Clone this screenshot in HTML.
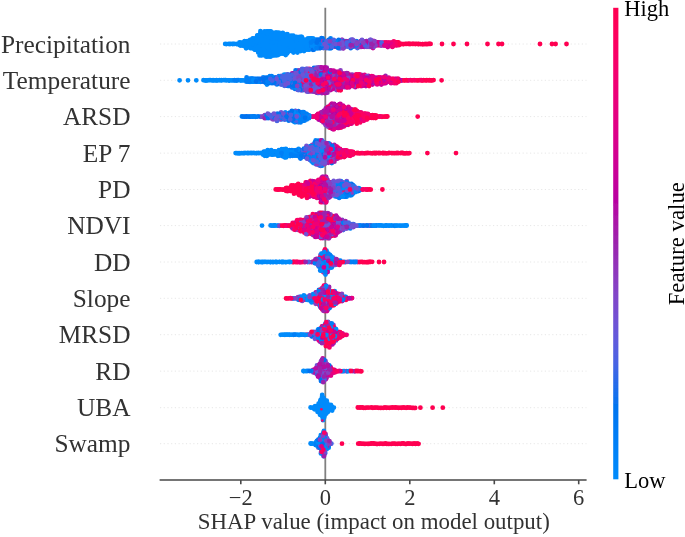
<!DOCTYPE html>
<html><head><meta charset="utf-8"><title>SHAP summary</title>
<style>
html,body{margin:0;padding:0;background:#fff;}
body{width:685px;height:537px;overflow:hidden;font-family:"Liberation Serif",serif;}
svg{display:block;font-family:"Liberation Serif",serif;}
</style></head><body>
<svg width="685" height="537" viewBox="0 0 685 537">
<defs><filter id="sf" x="0" y="0" width="685" height="537" filterUnits="userSpaceOnUse"><feGaussianBlur stdDeviation="0.45"/></filter><linearGradient id="cb" x1="0" y1="0" x2="0" y2="1"><stop offset="0.000" stop-color="#ff0051"/><stop offset="0.050" stop-color="#fe005c"/><stop offset="0.100" stop-color="#f90067"/><stop offset="0.150" stop-color="#f20072"/><stop offset="0.200" stop-color="#e9007c"/><stop offset="0.250" stop-color="#e00086"/><stop offset="0.300" stop-color="#d5008f"/><stop offset="0.350" stop-color="#c90098"/><stop offset="0.400" stop-color="#bb00a0"/><stop offset="0.450" stop-color="#ac16a7"/><stop offset="0.500" stop-color="#9b24ad"/><stop offset="0.550" stop-color="#9135ba"/><stop offset="0.600" stop-color="#8443c6"/><stop offset="0.650" stop-color="#754fd1"/><stop offset="0.700" stop-color="#635adb"/><stop offset="0.750" stop-color="#4b63e3"/><stop offset="0.800" stop-color="#246cea"/><stop offset="0.850" stop-color="#0075f0"/><stop offset="0.900" stop-color="#007cf5"/><stop offset="0.950" stop-color="#0084f9"/><stop offset="1.000" stop-color="#008bfb"/></linearGradient></defs>
<rect width="685" height="537" fill="#fff"/>
<g filter="url(#sf)">
<g stroke="#cfcfcf" stroke-width="1" stroke-dasharray="1.2 2.5" opacity="0.5"><line x1="160" x2="586.5" y1="44.0" y2="44.0"/><line x1="160" x2="586.5" y1="80.3" y2="80.3"/><line x1="160" x2="586.5" y1="116.6" y2="116.6"/><line x1="160" x2="586.5" y1="153.1" y2="153.1"/><line x1="160" x2="586.5" y1="189.5" y2="189.5"/><line x1="160" x2="586.5" y1="225.6" y2="225.6"/><line x1="160" x2="586.5" y1="262.0" y2="262.0"/><line x1="160" x2="586.5" y1="298.3" y2="298.3"/><line x1="160" x2="586.5" y1="334.7" y2="334.7"/><line x1="160" x2="586.5" y1="371.1" y2="371.1"/><line x1="160" x2="586.5" y1="407.7" y2="407.7"/><line x1="160" x2="586.5" y1="443.7" y2="443.7"/></g>
<line x1="325.3" x2="325.3" y1="7.8" y2="480" stroke="#808080" stroke-width="1.8"/>
<g fill="none" stroke-width="4.80" stroke-linecap="round">
<path stroke="#008bfb" d="M286.2 48.1h0M247.1 153.2h0M324.3 253.7h0M331.7 267.6h0M272.0 32.7h0M323.7 446.4h0M298.2 48.0h0M269.9 56.4h0M296.6 45.4h0M323.0 405.0h0M274.1 42.5h0M326.4 412.0h0M327.2 266.3h0M285.1 36.8h0M264.4 34.1h0M328.2 407.6h0M252.6 46.7h0M282.8 41.3h0M295.5 74.8h0M330.5 332.1h0M332.7 407.5h0M296.3 39.9h0M284.2 46.8h0M273.6 52.5h0M313.3 163.1h0M246.9 79.0h0M324.3 255.1h0M251.1 41.2h0M301.8 36.9h0M263.2 77.4h0M313.9 48.2h0M288.8 45.5h0M269.0 34.2h0M264.6 49.5h0M279.0 53.6h0M284.4 49.7h0M264.6 48.1h0M282.8 32.9h0M274.9 55.3h0M276.4 53.7h0M292.0 46.9h0M230.6 43.9h0M245.5 46.8h0M276.5 51.0h0M291.7 41.2h0M271.5 52.2h0M325.0 451.9h0M319.8 262.0h0M300.5 45.5h0M322.8 399.3h0M233.9 80.3h0M247.7 153.0h0M327.7 262.1h0M277.1 39.9h0M261.0 262.0h0M321.3 440.8h0M274.6 38.3h0M294.1 46.9h0M284.8 150.2h0M281.0 150.3h0M251.7 81.7h0M328.3 323.6h0M266.4 45.5h0M296.9 46.9h0M256.0 42.4h0M308.8 298.2h0M260.8 43.9h0M294.0 42.7h0M322.2 303.9h0M262.9 50.8h0M295.3 110.9h0M317.8 48.4h0M278.6 39.7h0M323.4 404.9h0M285.8 150.4h0M286.1 334.7h0M326.0 440.9h0M392.2 225.6h0M294.8 38.4h0M277.4 32.9h0M252.5 41.2h0M314.5 156.0h0M287.6 151.6h0M213.9 80.4h0M257.6 38.5h0M303.4 371.0h0M272.0 225.6h0M325.7 402.2h0M321.1 255.1h0M282.9 151.8h0M322.1 409.1h0M254.7 49.5h0M292.0 151.7h0M324.0 450.9h0M282.2 156.1h0M258.4 45.5h0M342.3 298.4h0M258.3 39.6h0M320.2 42.4h0M352.5 190.9h0M318.5 412.0h0M285.8 154.7h0M284.6 44.0h0M268.9 153.0h0M278.9 150.2h0M287.1 41.1h0M271.4 42.6h0M272.7 52.3h0M285.5 49.6h0M271.3 48.0h0M304.3 297.0h0M333.9 407.6h0M349.5 192.4h0M322.6 261.8h0M290.2 116.8h0M329.9 295.4h0M283.9 51.0h0M323.6 447.9h0M321.9 146.2h0M324.7 436.7h0M328.2 46.7h0M318.2 410.6h0M326.5 250.7h0M336.4 183.9h0M286.5 37.1h0M265.5 51.2h0M351.1 190.9h0M312.3 298.5h0M267.0 262.1h0M271.1 151.7h0M274.0 44.1h0M305.8 48.3h0M269.1 151.6h0M303.9 45.5h0M385.1 225.7h0M318.6 407.5h0M310.2 41.3h0M251.2 44.2h0M287.9 39.7h0M347.0 185.1h0M249.1 45.5h0M318.5 158.7h0M330.4 343.1h0M334.7 291.1h0M262.0 225.6h0M300.2 49.5h0M322.2 39.7h0M264.8 155.8h0M300.0 36.9h0M266.3 56.7h0M267.7 41.3h0M269.3 49.5h0M284.4 151.6h0M331.7 339.0h0M322.9 413.2h0M240.4 80.3h0M272.8 41.4h0M312.5 39.6h0M284.2 74.6h0M293.3 42.8h0M303.2 296.7h0M259.7 49.6h0M288.9 46.8h0M236.7 80.5h0M284.2 154.4h0M327.5 442.3h0M319.2 406.4h0M277.6 46.6h0M391.6 225.5h0M269.8 151.6h0M259.9 46.8h0M263.6 34.3h0M283.2 150.5h0M239.5 42.4h0M283.8 45.5h0M249.0 153.2h0M334.7 297.0h0M319.9 437.9h0M266.0 34.1h0M341.5 46.9h0M266.4 55.3h0M325.3 323.6h0M255.0 39.7h0M300.6 296.9h0M264.9 44.1h0M311.3 299.6h0M286.9 38.4h0M296.0 42.4h0M269.7 83.1h0M344.1 189.6h0M250.8 152.9h0M355.0 190.8h0M254.7 45.4h0M271.1 53.8h0M405.8 225.5h0M271.9 38.3h0M304.3 117.9h0M276.5 49.7h0M329.7 344.6h0M322.5 165.6h0M381.0 225.4h0M328.7 447.7h0M270.6 153.0h0M293.5 52.5h0M272.3 152.9h0M341.8 371.3h0M300.1 39.8h0M275.4 42.5h0M313.0 443.6h0M323.4 442.2h0"/>
<path stroke="#007ff6" d="M311.2 43.8h0M350.0 261.9h0M308.2 299.6h0M332.3 263.5h0M259.4 80.3h0M345.3 189.4h0M315.8 162.8h0M287.9 113.7h0M358.8 190.9h0M296.7 298.2h0M353.2 192.4h0M336.4 191.0h0M288.8 151.7h0M295.0 151.9h0M285.3 83.1h0M326.0 160.1h0M322.9 447.9h0M258.8 80.2h0M326.6 306.8h0M330.2 153.1h0M351.7 225.5h0M344.1 195.2h0M325.7 255.1h0M267.8 77.6h0M322.7 46.8h0M320.7 256.5h0M315.8 42.5h0M303.9 150.4h0M328.3 144.6h0M370.7 225.7h0M286.0 76.1h0M301.6 120.7h0M321.6 447.7h0M297.0 119.4h0M325.6 304.1h0M307.1 371.0h0M327.0 253.8h0M335.4 336.2h0M373.1 225.7h0M294.4 115.4h0M367.6 45.3h0M294.7 74.6h0M312.6 42.7h0M341.5 188.0h0M316.1 296.9h0M375.1 225.7h0M324.2 262.2h0M302.8 299.7h0M300.0 72.1h0M319.8 301.0h0M300.3 113.8h0M311.2 38.4h0M314.7 147.4h0M312.5 295.5h0M362.8 225.7h0M329.3 294.0h0M318.6 336.2h0M241.9 116.4h0M316.9 441.0h0M271.4 83.0h0M289.4 153.0h0M326.1 294.0h0M278.9 76.1h0M296.9 80.5h0M314.4 297.0h0M327.0 445.3h0M386.1 225.7h0M264.0 151.6h0M319.0 304.0h0M290.1 156.0h0M345.1 226.8h0M266.0 82.9h0M334.4 41.2h0M304.7 334.9h0M332.4 266.3h0M282.8 116.4h0"/>
<path stroke="#0072ef" d="M277.0 119.3h0M351.5 184.0h0M307.8 148.8h0M331.8 163.0h0M342.5 225.4h0M322.3 364.1h0M281.6 81.6h0M322.7 38.5h0M289.6 83.3h0M307.9 88.6h0M307.4 150.2h0M281.4 119.4h0M263.6 81.8h0M303.7 113.7h0M266.9 83.1h0M272.8 83.0h0M300.7 298.2h0M263.8 116.5h0M307.3 77.5h0M332.6 192.3h0M328.5 343.3h0M328.4 48.2h0M324.8 144.8h0M323.7 436.5h0M290.7 84.5h0M311.7 155.9h0M301.6 83.2h0M307.7 116.4h0M277.8 118.1h0M318.9 41.0h0M254.4 116.4h0M313.0 85.9h0M336.2 46.9h0M287.0 115.1h0M335.9 192.4h0M338.6 46.9h0M334.3 192.1h0M283.2 81.7h0M292.5 78.7h0M317.8 442.3h0M358.0 191.1h0"/>
<path stroke="#4b63e3" d="M304.9 80.5h0M349.6 186.5h0M278.9 80.3h0M298.4 119.4h0M313.1 158.6h0M339.0 45.5h0M319.6 69.2h0M303.5 69.2h0M342.2 192.2h0M291.6 85.8h0M372.1 46.9h0M306.2 69.0h0M348.5 188.0h0M309.0 81.7h0M311.3 151.6h0M287.9 115.3h0M344.8 228.3h0M355.8 190.9h0M297.4 70.7h0M325.8 151.6h0M333.2 261.8h0M293.1 81.8h0M293.7 84.7h0M319.7 48.1h0M339.6 195.0h0M333.3 257.7h0M312.6 147.4h0M285.8 77.6h0M299.3 151.5h0M285.6 78.9h0M317.3 163.0h0M296.5 153.1h0M349.2 189.7h0M316.3 77.5h0M303.4 85.9h0M332.8 229.9h0M356.1 46.8h0M315.5 81.9h0M301.6 117.8h0M306.2 81.8h0M288.1 80.4h0M330.9 260.7h0M360.3 44.1h0M310.0 153.2h0M292.6 83.2h0M291.3 113.7h0M271.3 118.2h0M353.6 224.1h0M343.8 261.8h0M360.5 45.5h0M304.5 155.9h0M318.3 146.1h0M313.4 81.9h0M324.2 73.2h0M293.5 79.1h0M283.0 117.9h0M317.3 146.2h0M319.1 46.7h0M297.0 72.0h0M260.3 116.7h0M320.3 266.2h0M301.7 80.2h0M301.7 70.7h0M301.8 113.8h0M324.9 76.2h0M293.4 83.2h0M319.6 153.0h0M278.8 77.6h0M332.4 195.0h0M332.5 189.4h0M289.7 78.7h0"/>
<path stroke="#7053d4" d="M349.5 227.0h0M319.2 232.7h0M312.0 90.1h0M321.4 156.0h0M304.6 77.5h0M348.8 189.5h0M293.5 80.3h0M347.1 225.5h0M327.3 298.3h0M350.8 193.6h0M327.3 231.0h0M328.4 158.6h0M291.9 119.3h0M336.8 193.6h0M320.5 254.8h0M310.3 70.6h0M338.6 41.4h0M261.0 116.8h0M301.6 116.7h0M302.5 73.5h0M363.5 41.3h0M310.9 158.9h0M318.5 441.0h0M308.0 158.8h0M364.4 46.9h0M266.8 116.5h0M336.3 188.2h0M337.8 44.0h0M316.8 90.1h0M316.3 261.9h0M276.8 118.0h0M322.1 157.2h0M346.1 228.2h0M268.8 78.9h0M319.5 148.7h0M321.4 438.1h0M329.4 369.7h0M338.8 42.5h0M346.4 371.1h0M308.6 78.9h0M318.2 72.1h0M306.5 146.0h0M319.6 365.7h0M317.6 84.7h0M321.1 262.0h0M284.2 82.9h0M322.6 185.3h0M324.4 42.6h0M324.7 449.4h0M319.5 67.7h0M319.5 146.0h0M311.2 80.4h0M312.4 90.1h0M318.5 338.9h0M327.7 160.0h0M325.3 146.1h0M335.4 183.8h0M352.1 39.6h0M329.4 46.8h0M343.3 224.1h0M283.4 115.3h0M322.3 453.5h0M322.0 69.0h0M346.8 181.2h0M321.8 267.7h0M337.1 192.2h0M353.7 81.8h0M344.2 45.3h0"/>
<path stroke="#893fc2" d="M327.5 371.2h0M336.0 340.4h0M326.0 92.9h0M330.8 42.6h0M319.6 147.6h0M318.8 371.3h0M320.9 292.5h0M317.0 158.7h0M290.3 83.1h0M333.7 158.6h0M370.1 46.9h0M317.5 153.0h0M326.0 91.4h0M332.2 126.6h0M336.8 232.6h0M316.3 83.3h0M327.5 185.4h0M342.8 120.8h0M272.6 116.8h0M273.1 119.4h0M334.3 340.1h0M312.9 218.7h0M316.6 70.4h0M319.0 90.3h0M264.8 115.1h0M307.7 153.1h0M334.1 151.8h0M296.4 76.2h0M322.2 215.8h0M312.8 155.8h0M290.0 77.3h0M324.0 238.1h0M280.1 119.3h0M331.3 301.2h0M320.0 217.4h0M314.9 295.6h0M330.8 443.8h0M298.7 76.1h0M335.7 337.4h0M311.7 153.3h0M344.9 81.6h0M327.1 70.5h0M318.5 77.5h0M308.0 81.8h0M321.0 88.9h0M335.0 158.7h0M306.4 73.4h0M329.5 224.1h0M325.6 361.2h0M306.1 147.6h0M294.2 80.1h0M359.7 44.2h0M344.6 87.2h0M355.9 84.5h0M324.0 369.5h0M320.2 373.9h0M329.6 81.7h0M332.3 113.9h0M339.4 223.0h0M330.8 305.5h0M362.7 84.4h0M322.9 85.8h0M338.8 77.6h0M317.6 302.6h0M324.0 221.3h0M307.3 78.9h0M326.5 259.3h0M336.6 331.9h0M341.8 40.0h0M320.8 161.7h0M341.9 294.0h0"/>
<path stroke="#9b24ad" d="M318.8 183.7h0M307.8 72.0h0M341.6 227.1h0M331.0 128.0h0M334.9 109.8h0M305.3 231.1h0M331.4 83.2h0M343.8 77.4h0M342.2 108.1h0M342.5 106.9h0M328.9 234.2h0M353.3 44.2h0M323.7 111.0h0M326.2 198.1h0M306.4 221.5h0M368.9 45.2h0M363.6 82.9h0M326.2 376.9h0M321.0 362.8h0M323.2 333.5h0M329.2 126.4h0M326.5 158.8h0M334.4 161.7h0M326.7 67.6h0M315.1 336.0h0M322.6 200.8h0M332.6 123.8h0M326.6 368.4h0M346.7 84.6h0M348.9 81.7h0M334.4 153.2h0M361.7 42.7h0M328.0 193.5h0M341.6 85.8h0M324.7 188.1h0M333.9 126.5h0M326.8 375.2h0M333.6 219.9h0M325.6 256.4h0M313.5 334.7h0M324.4 221.6h0M351.1 121.0h0M325.5 378.1h0M331.2 115.0h0M312.8 74.6h0M320.6 72.0h0M358.8 80.2h0M324.1 84.5h0M329.9 106.7h0M339.0 298.4h0M326.9 81.5h0M320.9 67.5h0M326.9 124.9h0M322.7 438.2h0M302.4 80.4h0M319.4 183.9h0M337.7 263.5h0M295.7 88.6h0M328.4 115.3h0M330.2 160.3h0M295.2 81.5h0M329.7 158.6h0M326.4 77.3h0M326.5 200.8h0M323.1 232.6h0M334.4 295.4h0M325.7 365.3h0M321.8 74.6h0M325.1 297.1h0M323.4 122.4h0M323.9 234.1h0M323.2 186.7h0M336.8 112.5h0M333.4 155.9h0M325.8 344.3h0M329.4 443.8h0"/>
<path stroke="#b607a2" d="M333.6 112.3h0M308.7 225.6h0M356.1 75.9h0M351.6 76.0h0M334.5 81.9h0M332.5 105.6h0M330.4 234.2h0M332.1 155.8h0M321.3 327.9h0M320.0 119.2h0M318.9 193.9h0M365.7 83.0h0M340.2 82.9h0M349.6 77.5h0M330.0 292.7h0M362.3 45.3h0M312.4 193.9h0M349.8 76.0h0M318.1 191.0h0M330.7 90.0h0M318.5 217.3h0M327.8 235.2h0M334.7 263.4h0M333.5 120.8h0M368.3 80.2h0M332.9 112.6h0M324.6 196.6h0M317.7 74.7h0M324.3 110.8h0M335.2 153.0h0M335.1 156.1h0M326.7 83.0h0M325.1 123.6h0M329.2 220.0h0M318.6 368.4h0M327.9 113.8h0M321.4 119.2h0M329.0 185.3h0M342.5 118.2h0M320.0 182.6h0M325.4 285.5h0M332.8 220.0h0M331.8 234.0h0M318.8 331.8h0M324.3 229.9h0M373.6 41.3h0M341.8 125.0h0M325.8 379.3h0M333.7 228.2h0M328.2 231.1h0M338.6 85.9h0M354.0 84.6h0M368.4 76.0h0M322.0 178.5h0M296.1 84.5h0M318.6 186.7h0M326.0 109.6h0M336.2 126.4h0M360.2 80.4h0M349.8 85.7h0M315.2 74.7h0M325.7 298.1h0M313.7 371.0h0M326.5 378.1h0M328.6 121.0h0M352.1 84.5h0M339.9 231.0h0M326.7 181.1h0M384.6 42.7h0M325.5 305.4h0M318.0 197.9h0"/>
<path stroke="#cd0095" d="M342.9 116.5h0M352.1 298.1h0M331.7 223.0h0M325.9 222.6h0M368.7 83.1h0M327.3 146.2h0M314.4 192.2h0M334.4 116.8h0M385.8 81.9h0M326.4 301.3h0M336.3 157.5h0M321.0 196.5h0M340.8 153.0h0M332.6 158.6h0M322.9 367.1h0M336.2 261.9h0M361.1 86.0h0M341.2 110.9h0M321.8 230.0h0M340.1 118.0h0M354.0 83.2h0M328.4 116.8h0M336.5 105.3h0M332.9 225.6h0M326.2 442.4h0M373.0 48.1h0M372.4 84.5h0M317.0 366.9h0M380.4 80.1h0M336.1 123.7h0M328.9 326.1h0M380.1 42.6h0M365.3 78.9h0M390.9 42.7h0M328.9 188.1h0M330.7 71.7h0M346.5 87.3h0M324.6 192.4h0M323.4 449.2h0M339.5 104.2h0M337.7 151.6h0M327.1 109.6h0M335.0 112.2h0M324.4 439.6h0M320.7 118.0h0M337.4 108.2h0M390.1 80.1h0M322.2 80.3h0M331.3 105.4h0M311.9 185.2h0M332.6 74.6h0M366.6 84.4h0M337.3 86.1h0M315.6 186.6h0M339.4 80.2h0M315.4 188.3h0M382.5 42.6h0M370.8 45.6h0"/>
<path stroke="#e00086" d="M317.2 196.6h0M335.1 298.4h0M323.5 361.2h0M356.8 122.2h0M318.1 260.5h0M341.4 150.2h0M377.8 45.2h0M354.1 78.9h0M333.1 371.1h0M320.6 113.6h0M320.5 115.3h0M330.3 218.7h0M373.6 78.9h0M371.7 42.7h0M332.3 147.5h0M366.5 81.5h0M383.3 43.9h0M336.8 122.2h0M333.9 371.1h0M346.1 109.7h0M331.2 298.1h0M341.5 262.2h0M329.9 79.0h0M343.0 119.5h0M388.7 77.6h0M358.1 82.9h0M358.7 78.9h0M342.0 84.6h0M358.7 77.5h0M322.5 227.2h0M318.5 214.5h0M361.0 112.4h0M336.3 76.1h0M357.4 118.2h0M302.3 88.5h0M323.1 224.3h0M308.4 195.0h0M375.1 80.4h0"/>
<path stroke="#ef0075" d="M313.2 222.6h0M313.1 224.2h0M352.7 83.1h0M317.8 231.0h0M300.9 222.6h0M398.4 79.0h0M351.6 298.2h0M332.9 260.6h0M315.8 194.9h0M320.1 195.0h0M407.7 80.4h0M374.2 80.3h0M325.1 190.9h0M348.2 108.2h0M360.1 117.8h0M299.8 220.0h0M317.1 226.8h0M306.4 189.5h0M359.9 120.7h0M379.7 80.4h0M357.8 262.0h0"/>
<path stroke="#fb0064" d="M310.9 185.4h0M324.0 228.4h0M304.2 224.0h0M311.1 193.8h0M332.2 222.8h0M323.9 285.7h0M327.8 333.2h0M312.1 232.7h0M336.2 108.3h0M338.7 88.7h0M339.5 334.8h0M356.4 120.8h0M322.5 327.5h0M304.0 189.7h0M344.9 334.9h0M322.9 199.3h0M324.7 293.9h0M340.6 299.7h0M360.6 77.4h0M326.4 231.2h0M306.9 188.0h0M320.1 191.1h0M305.0 224.4h0M309.6 189.6h0M361.6 116.4h0M346.8 109.6h0M370.6 80.4h0M297.4 223.0h0M373.8 117.9h0M322.1 291.4h0M318.2 181.1h0M326.9 331.8h0M316.8 115.2h0M325.8 336.0h0M308.3 227.0h0M388.9 42.7h0M312.1 228.4h0M312.4 191.1h0M393.8 41.3h0M320.8 238.1h0M311.0 296.8h0M347.0 108.3h0M328.7 73.4h0M350.4 110.9h0M303.0 226.8h0M317.2 71.9h0M310.4 229.7h0M325.9 214.2h0M302.0 192.1h0M324.5 186.6h0M319.1 87.1h0M337.9 150.3h0M393.5 78.9h0M284.4 225.5h0M320.8 221.5h0M341.3 76.2h0M341.6 154.4h0M309.8 194.9h0M324.1 332.1h0M383.3 77.5h0M320.6 70.5h0M318.0 115.2h0M346.0 151.6h0M320.8 202.2h0M316.0 116.6h0M313.1 228.5h0M372.9 116.6h0M321.7 296.9h0M328.5 340.4h0M398.3 43.8h0M320.4 330.4h0M326.3 186.6h0M325.7 337.4h0M347.9 120.7h0M312.9 231.0h0M354.4 81.8h0M301.0 221.5h0M333.1 120.6h0M351.8 113.8h0M319.6 86.1h0M378.4 77.4h0M324.2 305.4h0M326.8 338.9h0M347.0 123.8h0M396.4 45.3h0M370.5 225.6h0M373.2 117.9h0M335.8 88.8h0"/>
<path stroke="#ff0051" d="M328.6 221.4h0M337.6 148.9h0M418.2 80.4h0M335.9 297.0h0M280.3 189.4h0M314.9 193.7h0M368.2 115.3h0M369.9 407.6h0M330.8 329.0h0M417.7 116.6h0M325.2 250.8h0M296.4 186.5h0M566.5 44.0h0M379.3 443.8h0M397.5 443.8h0M371.4 407.5h0M340.7 122.3h0M302.8 192.4h0M369.6 189.4h0M350.0 112.4h0M393.5 45.5h0M321.2 329.2h0M318.2 295.7h0M404.6 407.6h0M366.9 189.7h0M293.8 188.0h0M277.2 189.5h0M394.1 45.6h0M294.8 228.3h0M310.3 222.8h0M307.7 192.4h0M303.8 192.2h0M336.1 84.6h0M382.4 443.8h0M313.0 229.9h0M318.9 300.9h0M367.5 262.2h0M298.0 229.9h0M405.0 443.8h0M412.0 43.9h0M338.8 336.1h0M422.3 44.2h0M372.9 153.1h0M340.7 301.0h0M305.4 193.5h0M373.3 443.5h0M335.8 78.7h0M348.2 111.1h0M283.1 189.7h0M355.5 109.6h0M327.1 238.1h0M336.1 87.2h0M301.4 189.4h0M361.6 113.9h0M395.1 153.2h0M329.6 323.5h0M428.9 43.8h0M348.1 124.8h0M352.4 153.0h0M385.0 42.7h0M408.1 153.3h0M405.2 153.3h0M369.9 115.3h0M386.9 443.9h0M317.9 338.8h0M389.5 407.8h0M412.7 43.8h0M322.0 260.4h0M406.5 443.9h0M332.1 228.3h0M317.4 298.2h0M552.0 44.0h0M298.5 192.3h0M322.0 236.7h0M355.1 119.5h0M297.8 262.0h0M360.8 407.5h0M355.9 112.4h0M388.0 407.7h0M403.7 44.1h0M432.6 407.7h0M286.0 298.3h0M379.0 262.0h0M297.3 228.2h0M323.4 189.6h0M288.2 190.8h0M324.7 311.0h0M372.2 261.8h0M374.4 407.7h0M326.4 219.9h0M357.5 153.0h0M299.0 191.0h0M368.4 407.6h0M365.3 115.3h0M401.4 152.9h0M318.9 299.9h0M296.0 191.1h0M337.7 154.5h0M293.8 191.0h0M326.9 327.8h0M328.5 78.9h0M353.5 78.9h0M380.5 407.9h0"/>
<path stroke="#008bfb" d="M272.9 45.4h0M281.0 151.9h0M280.5 35.5h0M320.8 143.4h0M323.0 268.8h0M284.6 35.6h0M260.4 31.2h0M282.8 154.7h0M272.1 53.8h0M278.9 32.7h0M315.6 39.7h0M273.9 153.2h0M343.5 186.8h0M268.0 46.7h0M265.9 36.9h0M298.8 73.2h0M325.1 414.8h0M276.2 262.0h0M257.2 35.6h0M299.7 297.0h0M332.2 410.5h0M325.0 413.5h0M310.0 38.4h0M297.5 41.3h0M319.1 404.7h0M306.2 39.8h0M275.9 43.8h0M298.7 37.1h0M277.5 49.6h0M258.5 41.1h0M337.8 183.8h0M347.9 225.5h0M256.1 153.2h0M219.6 80.2h0M327.7 270.2h0M323.9 259.0h0M302.5 38.5h0M291.8 39.9h0M394.1 225.6h0M322.2 410.4h0M275.3 154.3h0M225.2 43.9h0M242.7 45.5h0M280.6 39.9h0M281.6 262.0h0M328.0 445.1h0M285.1 42.7h0M280.6 42.6h0M302.8 45.6h0M279.2 261.9h0M356.3 261.9h0M322.8 258.0h0M282.5 334.6h0M304.0 39.8h0M319.8 259.3h0M310.6 443.5h0M306.5 298.3h0M276.2 40.0h0M275.8 45.5h0M260.9 50.9h0M314.3 44.0h0M283.9 334.7h0M317.4 410.4h0M342.9 184.1h0M261.8 44.0h0M330.9 257.7h0M290.4 39.7h0M320.6 147.4h0M324.1 330.6h0M265.8 53.8h0M261.0 38.5h0M288.0 38.2h0M264.5 46.9h0M347.6 189.7h0M274.7 44.0h0M277.7 42.6h0M267.4 52.4h0M301.8 296.9h0M288.9 40.0h0M315.8 295.6h0M320.8 435.2h0M299.3 41.1h0M281.7 38.4h0M293.1 39.9h0M256.4 48.4h0M335.3 191.0h0M268.8 32.6h0M297.1 44.1h0M326.4 252.0h0M319.7 439.6h0M267.4 53.7h0M276.5 32.6h0M275.8 41.0h0M324.0 295.5h0M263.0 46.7h0M271.5 50.8h0M221.6 80.2h0M256.9 44.0h0M253.7 39.8h0M255.7 45.5h0M326.1 407.6h0M268.3 49.8h0M270.1 262.1h0M268.8 43.9h0M281.7 42.5h0M228.5 43.9h0M254.3 46.7h0M303.9 49.5h0M272.8 39.9h0M305.9 371.1h0M304.4 41.4h0M298.4 38.6h0M322.0 257.9h0M268.4 37.0h0M278.9 52.3h0M273.8 49.4h0M324.3 402.2h0M317.5 411.8h0M301.1 36.8h0M320.7 267.7h0M274.5 48.3h0M288.4 45.4h0M307.6 45.2h0M288.4 48.3h0M293.5 51.1h0M229.3 80.5h0M314.5 143.2h0M274.8 52.4h0M284.2 39.8h0M326.8 449.1h0M272.7 43.8h0M280.6 154.5h0M342.8 193.7h0M323.9 431.0h0M284.0 42.7h0M329.8 260.7h0M314.3 294.0h0M285.3 38.3h0M308.4 42.7h0M332.4 337.3h0M313.5 296.9h0M272.2 51.1h0M318.2 302.5h0M259.2 42.6h0M341.6 185.2h0M306.4 43.9h0M358.9 188.2h0M305.4 49.6h0M215.9 80.4h0M274.2 154.3h0M309.7 49.5h0M273.5 45.3h0M271.9 49.4h0M266.9 84.5h0M281.3 34.2h0M327.5 406.2h0M263.7 41.0h0M304.2 119.4h0M268.0 31.4h0M269.9 81.8h0M315.1 406.1h0M326.7 408.9h0M260.5 34.3h0M286.0 157.4h0M267.7 150.2h0M261.8 38.5h0M283.2 39.6h0M279.7 52.3h0M388.8 225.7h0M271.6 41.2h0M293.6 49.5h0M302.0 49.6h0M289.2 334.7h0M289.4 154.7h0M329.6 267.7h0M327.8 256.5h0M266.1 44.2h0M326.5 270.4h0M258.9 262.0h0M290.4 44.1h0M297.6 51.0h0M262.1 262.1h0M306.2 46.8h0M279.3 44.0h0M327.2 323.3h0M292.4 36.9h0M245.0 152.9h0M279.8 261.8h0M271.0 39.7h0M239.8 45.2h0M268.2 261.8h0M322.9 439.7h0M317.6 294.0h0M304.4 46.6h0M318.5 329.2h0M266.8 48.4h0M291.5 38.3h0M274.6 45.5h0M269.7 50.9h0M319.6 406.4h0M324.7 158.8h0M278.0 55.1h0M284.6 155.9h0M322.0 150.2h0M250.5 80.4h0M282.8 51.1h0M324.0 407.5h0M250.4 78.7h0M272.8 36.9h0M268.6 154.5h0M312.6 407.8h0M343.8 222.9h0M294.1 40.0h0M295.6 44.2h0M286.2 45.4h0M321.6 407.6h0M347.4 193.7h0M321.5 445.3h0M323.1 42.4h0M401.4 225.7h0M268.0 153.0h0M213.1 80.2h0M348.7 195.0h0M309.2 48.1h0M323.0 418.9h0M307.1 156.0h0M386.8 225.4h0M244.5 153.2h0M254.7 48.1h0M331.7 41.1h0M289.3 48.3h0M400.4 225.7h0M327.8 341.8h0M273.9 35.6h0M310.0 42.6h0M299.4 45.3h0M294.4 122.1h0M322.7 266.3h0M312.7 45.3h0M209.2 80.1h0M281.1 39.6h0M256.8 49.4h0M261.5 48.2h0M315.7 160.3h0"/>
<path stroke="#007ff6" d="M323.0 267.6h0M325.2 150.2h0M307.5 154.4h0M320.4 302.5h0M319.6 446.7h0M282.7 83.3h0M341.0 181.2h0M345.5 186.6h0M356.1 189.5h0M324.1 453.7h0M297.6 154.6h0M321.2 334.7h0M329.4 256.5h0M302.8 113.8h0M320.0 44.2h0M348.0 184.0h0M319.7 158.7h0M350.3 228.4h0M328.3 326.2h0M279.0 155.7h0M322.2 452.3h0M249.3 78.9h0M302.3 157.1h0M259.4 81.6h0M274.4 115.1h0M314.5 46.7h0M294.7 116.4h0M318.1 46.8h0M342.1 222.7h0M269.9 77.6h0M256.5 81.7h0M276.9 84.4h0M318.4 292.5h0M341.6 196.5h0M336.9 189.3h0M376.6 225.5h0M335.0 188.2h0M325.8 146.2h0M329.9 254.8h0M351.5 195.2h0M306.1 151.5h0M324.7 147.6h0M313.9 146.2h0M313.8 49.7h0M272.1 77.6h0M282.6 77.7h0M371.4 225.6h0M311.6 87.3h0M287.0 113.6h0M346.2 196.4h0M317.7 332.0h0M269.9 76.1h0M322.4 260.5h0M269.3 116.8h0M340.2 190.9h0M314.0 45.5h0M327.5 439.5h0M340.3 196.4h0M347.2 371.3h0M248.4 81.5h0M330.0 48.3h0M310.7 150.5h0M323.7 155.7h0M322.5 288.6h0M299.3 154.4h0M353.9 191.0h0M323.3 254.8h0M318.1 162.9h0M296.3 48.4h0M329.9 303.8h0"/>
<path stroke="#0072ef" d="M334.4 184.0h0M295.9 72.0h0M350.7 48.2h0M301.1 154.4h0M302.9 115.1h0M291.2 116.5h0M339.7 46.8h0M292.7 298.4h0M314.0 67.9h0M257.2 116.6h0M268.4 83.0h0M333.7 189.5h0M346.0 41.2h0M353.1 46.7h0M285.5 81.7h0M292.7 120.8h0M314.7 150.1h0M337.2 42.4h0M300.1 74.8h0M331.8 147.5h0M294.1 113.6h0M331.3 158.9h0M301.0 150.2h0M258.0 116.4h0M294.6 112.3h0M288.7 81.8h0M286.8 81.8h0M330.9 41.2h0M319.7 442.2h0M315.7 161.5h0M315.1 45.5h0M274.7 81.9h0M351.5 43.9h0M282.5 80.5h0M341.1 193.5h0M359.6 46.8h0M321.0 381.0h0M288.4 116.7h0M313.4 144.8h0M340.9 41.1h0M328.0 42.7h0M278.2 83.2h0M324.2 264.9h0M324.8 374.1h0M292.6 74.6h0M351.1 189.5h0M337.0 41.2h0M314.1 42.8h0M305.4 156.0h0M347.3 44.2h0"/>
<path stroke="#4b63e3" d="M319.2 78.9h0M319.1 142.0h0M369.4 45.6h0M314.2 91.6h0M319.7 333.2h0M267.2 115.2h0M352.7 261.9h0M310.5 88.7h0M366.0 45.3h0M337.2 196.5h0M322.7 445.2h0M318.2 90.0h0M339.9 42.4h0M330.5 151.9h0M325.1 148.9h0M304.2 74.9h0M296.2 80.4h0M351.9 226.9h0M304.0 81.6h0M309.2 151.9h0M327.5 143.4h0M333.0 297.0h0M281.3 84.7h0M315.3 70.5h0M301.7 77.6h0M273.1 115.1h0M329.5 146.0h0M286.1 118.0h0M361.8 44.0h0M349.2 193.6h0M310.4 76.2h0M314.4 160.1h0M305.2 153.0h0M301.7 84.5h0M338.3 43.8h0M322.5 155.7h0M321.8 46.8h0M352.5 185.2h0M306.1 149.0h0M367.0 41.2h0M323.4 48.0h0M344.0 192.1h0M358.1 45.5h0M328.2 84.3h0M327.3 90.0h0M343.2 230.0h0M291.9 87.4h0M325.2 453.3h0M288.0 118.2h0M336.8 221.2h0M307.3 76.2h0M326.8 87.2h0M315.4 154.4h0M303.8 154.6h0M315.9 73.1h0M351.3 192.5h0"/>
<path stroke="#7053d4" d="M328.2 154.4h0M321.9 232.5h0M325.7 147.3h0M317.4 147.5h0M320.4 372.6h0M335.1 80.4h0M354.4 371.3h0M338.1 189.5h0M340.8 43.9h0M333.5 41.3h0M322.6 369.9h0M321.6 87.1h0M334.3 229.8h0M376.8 44.1h0M311.3 79.0h0M277.7 119.2h0M339.5 181.0h0M321.5 42.7h0M292.4 118.2h0M281.1 112.4h0M307.4 87.4h0M323.4 150.4h0M322.1 84.7h0M333.8 193.7h0M322.3 164.2h0M339.4 182.4h0M341.6 42.7h0M278.9 118.0h0M330.9 217.0h0M350.9 224.3h0M300.4 83.0h0M320.3 87.2h0M285.4 85.7h0M294.7 85.9h0M325.2 362.8h0M312.9 91.5h0M370.3 42.5h0M329.3 371.3h0M303.5 87.3h0M294.1 115.2h0M350.7 185.4h0M311.8 88.8h0M298.6 224.1h0M328.3 227.2h0M317.8 76.0h0M343.0 41.1h0M308.1 155.9h0M331.9 186.6h0M320.6 264.6h0"/>
<path stroke="#893fc2" d="M313.3 336.0h0M323.4 195.0h0M322.7 144.8h0M342.2 39.8h0M320.3 81.7h0M345.6 45.4h0M307.4 90.0h0M295.0 78.8h0M302.8 153.0h0M326.1 365.4h0M309.7 158.5h0M323.9 309.4h0M317.4 372.7h0M301.1 231.0h0M308.9 224.3h0M292.2 76.1h0M367.5 44.0h0M294.6 224.2h0M341.4 224.3h0M344.3 371.2h0M340.3 222.6h0M373.7 44.0h0M286.2 115.3h0M301.2 76.1h0M380.6 44.1h0M308.6 84.6h0M330.5 301.2h0M318.1 144.6h0M294.2 73.1h0M335.1 222.7h0M326.2 235.4h0M327.7 305.2h0M328.6 215.7h0M326.2 44.2h0M323.7 381.0h0M317.6 70.3h0M328.0 90.2h0M320.1 368.1h0M318.9 80.1h0M364.1 80.3h0M334.6 79.0h0M324.6 273.2h0M324.5 371.0h0M301.4 85.8h0M325.9 90.0h0M301.4 79.0h0M343.0 226.9h0M306.8 76.0h0M301.3 73.2h0M325.7 258.0h0M333.8 157.2h0M280.7 118.1h0M310.5 77.5h0M318.5 337.5h0M353.1 45.6h0M325.7 148.7h0M330.8 218.7h0M344.8 110.9h0M302.1 87.5h0M353.5 227.0h0M319.2 228.6h0M322.9 380.8h0M320.8 186.6h0M329.2 265.0h0M262.5 116.7h0M341.4 225.6h0M326.1 120.8h0M307.6 222.9h0M335.1 42.6h0M332.7 87.3h0M320.9 235.2h0M334.1 80.3h0M304.9 230.0h0M301.1 88.6h0M333.0 111.0h0M321.8 288.3h0M319.2 154.4h0M312.7 70.4h0M341.2 81.6h0M306.7 91.4h0M344.2 225.4h0M306.8 218.5h0M335.9 260.5h0"/>
<path stroke="#9b24ad" d="M327.4 92.7h0M326.0 76.2h0M330.6 182.6h0M353.1 77.4h0M330.5 294.3h0M310.5 218.7h0M326.4 190.9h0M326.0 188.3h0M318.9 294.2h0M328.6 119.6h0M335.3 105.5h0M301.9 228.3h0M322.2 375.3h0M331.0 368.5h0M336.5 71.8h0M308.9 219.8h0M338.9 229.7h0M330.9 335.9h0M373.8 45.3h0M322.6 179.8h0M333.6 88.8h0M294.6 222.9h0M324.0 364.2h0M348.6 41.2h0M323.9 144.8h0M322.4 189.3h0M361.4 74.9h0M270.2 116.5h0M330.5 119.5h0M352.8 85.8h0M341.2 229.7h0M341.0 87.1h0M326.7 372.5h0M323.7 73.1h0M329.5 83.0h0M325.8 215.8h0M325.1 234.2h0M332.3 76.2h0M321.2 77.4h0M345.2 73.3h0M334.3 144.9h0M324.9 161.7h0M312.1 85.9h0M333.7 264.7h0M317.4 262.2h0M330.3 115.4h0M323.8 187.9h0M334.2 73.3h0M364.6 43.9h0M343.9 82.9h0M315.0 91.7h0M327.5 122.3h0M319.3 77.7h0M331.6 235.4h0M320.7 338.8h0M332.5 127.6h0M304.0 222.7h0M342.0 78.9h0M327.5 179.8h0M327.9 213.1h0M322.6 293.9h0M310.0 217.0h0M317.3 368.2h0M360.1 84.6h0M330.4 371.1h0M334.7 229.9h0M328.5 160.2h0M333.8 231.2h0M338.6 108.3h0M325.6 234.1h0M337.7 74.6h0M316.4 369.7h0M311.4 82.9h0M349.1 45.4h0M326.4 110.9h0"/>
<path stroke="#b607a2" d="M350.4 84.7h0M334.8 224.4h0M332.7 115.1h0M322.1 193.7h0M302.0 86.1h0M328.2 303.9h0M324.4 289.8h0M335.4 87.2h0M322.4 77.3h0M344.2 125.0h0M387.6 43.8h0M330.9 123.7h0M333.7 83.3h0M333.9 234.1h0M357.6 85.8h0M336.9 153.3h0M344.9 74.7h0M326.3 262.0h0M334.6 262.1h0M325.2 226.9h0M339.9 106.7h0M315.9 292.5h0M372.2 80.2h0M334.9 115.2h0M332.7 118.1h0M333.6 87.1h0M338.8 227.1h0M321.3 112.3h0M323.7 218.4h0M335.8 74.8h0M329.0 292.9h0M358.2 81.7h0M335.4 127.9h0M327.8 446.5h0M322.1 435.4h0M345.4 80.3h0M341.3 122.1h0M314.4 229.8h0M338.7 296.8h0M322.0 264.7h0M314.4 221.3h0M325.2 182.6h0M331.2 76.1h0M311.2 190.7h0M352.1 45.2h0M328.8 190.9h0M360.0 45.5h0M379.2 44.1h0M343.7 85.8h0M334.3 105.4h0M323.7 291.5h0M330.7 86.0h0M333.6 217.0h0M380.5 78.7h0M311.6 262.2h0M331.5 153.1h0M328.1 290.1h0M333.6 218.6h0M337.1 299.8h0M354.2 111.2h0M317.8 371.3h0M348.1 80.4h0M322.7 225.7h0M333.4 106.9h0M375.3 43.9h0M333.5 304.0h0M316.4 74.7h0M342.7 80.2h0M326.1 176.9h0M316.9 91.6h0M355.3 87.2h0M339.4 123.6h0M327.7 301.0h0M334.4 148.7h0M332.7 129.0h0M345.1 299.8h0M325.5 200.7h0M335.3 44.1h0M333.1 154.4h0M329.5 108.1h0M335.1 126.6h0M330.4 340.3h0M325.1 113.9h0"/>
<path stroke="#cd0095" d="M322.8 358.5h0M379.0 45.2h0M342.5 73.3h0M336.9 217.1h0M333.8 150.5h0M359.2 78.9h0M331.9 86.1h0M342.0 113.9h0M331.6 87.3h0M329.2 290.0h0M326.0 119.2h0M370.2 78.9h0M350.7 123.5h0M343.3 112.3h0M340.7 151.9h0M378.4 83.2h0M344.1 78.7h0M315.9 229.7h0M312.0 184.1h0M362.4 85.9h0M338.4 74.6h0M368.4 43.9h0M381.3 84.6h0M321.6 376.7h0M346.8 119.6h0M325.3 176.9h0M345.5 150.5h0M338.3 118.1h0M359.8 81.6h0M335.1 231.3h0M314.2 188.0h0M342.8 77.5h0M315.9 182.6h0M354.9 117.9h0M334.2 72.0h0M345.2 82.9h0M321.8 337.4h0M351.7 112.4h0M330.3 105.4h0M321.4 368.5h0M322.7 378.0h0"/>
<path stroke="#e00086" d="M318.2 224.1h0M319.9 192.2h0M348.4 106.9h0M335.2 108.2h0M316.8 217.1h0M375.0 79.0h0M351.7 123.5h0M324.2 82.9h0M354.9 80.3h0M328.2 329.1h0M391.1 83.2h0M391.1 78.9h0M360.1 76.1h0M350.7 116.5h0M318.0 113.8h0M374.2 81.9h0M348.2 74.6h0M318.1 228.2h0M336.2 371.2h0M344.0 150.4h0M324.5 231.2h0M345.4 77.7h0M325.2 331.7h0M344.3 116.7h0M376.4 45.3h0M343.1 151.8h0M340.3 155.7h0M313.9 226.9h0M354.5 77.5h0M307.1 185.1h0M342.1 116.5h0M338.9 127.9h0M355.4 371.2h0M309.4 262.1h0"/>
<path stroke="#ef0075" d="M342.0 153.0h0M388.4 45.2h0M323.7 365.7h0M361.7 119.4h0M378.3 79.0h0M315.8 190.9h0M358.9 119.3h0M349.7 115.2h0M310.3 232.8h0M318.7 445.2h0M310.5 226.9h0M318.4 218.6h0M341.1 83.0h0M382.8 81.8h0M397.2 80.2h0M303.9 228.5h0M393.4 42.5h0M361.1 115.2h0M314.3 181.3h0M358.8 112.3h0M385.3 77.6h0M321.5 189.4h0M394.3 83.2h0M314.1 262.0h0M327.1 88.8h0M353.6 153.0h0M332.7 217.2h0"/>
<path stroke="#fb0064" d="M336.2 339.0h0M347.3 153.0h0M337.0 127.6h0M307.0 296.9h0M376.9 116.7h0M341.6 299.8h0M330.3 80.2h0M320.1 229.9h0M369.0 115.1h0M330.7 264.8h0M328.1 259.1h0M295.6 262.0h0M343.1 123.4h0M340.7 297.0h0M338.1 125.0h0M331.6 103.9h0M309.6 232.8h0M339.3 125.1h0M340.1 336.1h0M320.1 292.5h0M330.2 333.4h0M325.9 73.1h0M354.3 115.3h0M351.5 78.8h0M337.9 147.6h0M334.8 338.8h0M317.3 303.8h0M310.9 233.8h0M323.6 236.8h0M326.4 336.3h0M315.9 302.5h0M319.6 181.0h0M305.2 298.2h0M322.1 295.4h0M375.3 116.8h0M371.8 76.2h0M338.3 260.7h0M331.0 326.4h0M336.7 333.1h0M307.0 197.9h0M332.6 73.4h0M302.0 262.2h0M337.2 336.0h0M326.5 341.9h0M327.6 221.3h0M304.6 262.2h0M334.8 84.5h0M307.3 190.7h0M349.1 153.0h0M300.3 189.5h0M344.4 122.0h0M351.8 81.9h0M323.2 271.9h0M291.8 227.2h0M390.9 81.6h0M310.2 195.2h0M301.1 219.9h0M303.1 189.6h0M305.5 219.8h0M309.6 188.2h0M368.6 116.8h0M303.4 261.8h0M309.7 192.4h0M330.3 341.5h0M337.7 262.0h0M311.9 188.1h0M327.0 288.5h0M348.2 109.5h0M347.8 123.7h0M336.9 301.0h0M334.1 302.6h0M339.7 263.6h0M322.5 231.3h0M293.4 262.0h0M323.9 298.2h0"/>
<path stroke="#ff0051" d="M292.5 191.1h0M302.9 190.8h0M359.6 115.2h0M323.6 336.0h0M382.0 407.8h0M427.4 153.1h0M329.0 324.9h0M371.7 117.9h0M356.0 119.2h0M335.8 299.8h0M309.2 229.9h0M358.6 153.1h0M321.0 341.5h0M388.5 153.1h0M416.9 43.8h0M378.2 153.1h0M415.1 80.3h0M311.9 182.5h0M425.1 80.3h0M297.6 189.4h0M427.2 44.2h0M333.7 81.5h0M394.1 407.6h0M309.2 80.3h0M349.9 118.0h0M385.4 443.5h0M333.1 227.0h0M321.9 256.3h0M359.4 112.6h0M312.0 195.3h0M417.1 443.5h0M433.6 80.1h0M352.2 117.8h0M351.9 116.8h0M323.1 88.5h0M317.7 69.1h0M341.5 126.5h0M319.6 305.3h0M398.9 45.2h0M442.0 44.0h0M406.7 153.2h0M339.2 105.4h0M337.8 302.3h0M294.0 193.7h0M374.8 443.7h0M351.3 119.3h0M313.2 215.9h0M310.4 180.9h0M324.0 341.7h0M359.3 407.6h0M356.0 118.2h0M322.3 309.4h0M365.1 113.6h0M331.6 73.2h0M322.7 197.8h0M383.5 407.8h0M422.9 44.2h0M379.3 83.2h0M312.9 87.2h0M362.6 115.4h0M301.8 226.9h0M298.2 186.8h0M398.6 407.9h0M337.0 302.4h0M333.8 77.5h0M359.4 262.1h0M307.6 234.0h0M346.5 115.1h0M352.9 112.2h0M325.0 249.5h0M432.0 80.4h0M375.9 407.6h0M326.9 345.9h0M360.4 371.2h0M339.0 157.4h0M403.5 443.5h0M331.8 334.7h0M360.8 261.8h0M354.5 120.6h0M365.4 407.8h0M342.0 443.7h0M352.4 115.0h0M331.6 259.2h0M332.1 330.5h0M332.9 302.5h0M338.9 116.7h0M325.7 218.8h0M351.2 115.0h0M366.2 114.0h0M390.5 44.1h0M293.5 185.5h0M275.7 189.4h0M426.8 80.2h0M428.7 80.3h0M288.5 188.2h0M368.7 262.0h0M321.6 299.6h0M293.2 227.1h0M304.3 193.7h0M339.9 157.4h0M303.4 195.1h0M305.2 228.3h0M368.8 443.9h0M291.2 186.8h0M366.3 262.2h0"/>
<path stroke="#008bfb" d="M284.3 34.3h0M268.4 39.8h0M314.7 301.1h0M279.2 45.4h0M232.5 44.0h0M324.2 301.2h0M247.8 79.0h0M260.3 53.6h0M379.8 225.4h0M266.9 51.0h0M288.5 46.9h0M263.2 154.7h0M255.0 48.1h0M239.9 153.1h0M319.6 441.0h0M288.5 51.0h0M253.8 41.4h0M298.4 334.9h0M322.7 263.4h0M285.3 112.5h0M305.3 39.9h0M287.2 43.9h0M257.9 50.8h0M323.5 416.2h0M266.9 38.5h0M313.1 294.1h0M298.8 80.3h0M303.9 295.3h0M255.9 79.0h0M299.5 88.8h0M248.2 80.2h0M259.9 41.1h0M356.0 41.1h0M339.0 262.0h0M323.2 340.3h0M306.6 117.9h0M280.7 334.8h0M283.1 153.1h0M291.1 48.2h0M286.1 262.1h0M305.4 43.8h0M247.2 41.1h0M322.5 154.5h0M346.0 225.6h0M285.5 116.6h0M327.7 267.6h0M255.4 41.2h0M309.3 44.2h0M320.9 409.0h0M319.9 299.7h0M304.2 298.2h0M259.6 39.9h0M244.3 43.9h0M265.4 35.7h0M274.9 151.7h0M323.7 399.3h0M265.9 38.4h0M256.9 45.4h0M258.4 153.0h0M313.0 38.5h0M312.3 333.4h0M225.7 80.2h0M340.5 188.0h0M275.5 53.8h0M382.0 225.6h0M270.6 36.8h0M316.3 45.5h0M238.1 153.2h0M284.9 334.8h0M297.1 151.6h0M272.7 55.3h0M299.5 42.6h0M277.1 262.1h0M280.7 51.2h0M298.2 41.1h0M357.5 225.7h0M269.8 31.3h0M284.0 149.1h0M302.3 44.2h0M293.5 154.6h0M310.6 407.5h0M179.6 80.3h0M274.1 54.0h0M320.2 405.1h0M308.3 49.4h0M325.2 253.8h0M273.3 38.3h0M262.1 50.9h0M260.6 37.0h0M253.3 45.4h0M300.5 41.2h0M296.6 151.6h0M326.7 447.8h0M326.5 155.9h0M320.1 303.8h0M312.2 301.2h0M262.4 46.8h0M325.3 270.2h0M282.0 35.5h0M324.3 403.4h0M316.1 406.3h0M216.6 80.2h0M295.7 122.2h0M252.8 38.5h0M264.1 45.5h0M317.9 41.2h0M287.0 53.6h0M273.9 46.7h0M312.6 296.7h0M335.3 196.4h0M302.2 112.2h0M280.4 49.7h0M256.8 153.1h0M325.5 274.5h0M316.3 407.5h0M302.8 41.4h0M259.2 37.1h0M269.8 46.6h0M320.2 263.3h0M281.0 153.2h0M331.2 259.3h0M323.6 451.9h0M298.2 45.5h0M274.7 34.0h0M265.2 154.6h0M308.4 41.0h0M311.3 158.9h0M267.3 42.6h0M284.0 53.7h0M268.6 35.8h0M205.1 80.3h0M297.6 48.1h0M320.1 143.2h0M282.7 38.4h0M298.4 42.6h0M274.7 39.8h0M278.7 49.5h0M247.7 44.1h0M360.9 189.5h0M334.8 301.1h0M276.2 35.6h0M250.0 42.7h0M264.5 31.4h0M272.8 34.3h0M331.6 406.4h0M320.2 295.4h0M274.4 225.4h0M264.2 38.3h0M252.0 45.3h0M286.5 35.6h0M299.5 48.2h0M295.7 41.3h0M287.6 156.1h0M244.8 45.5h0M325.1 400.5h0M297.5 39.8h0M269.7 45.2h0M241.0 80.3h0M325.6 440.9h0M320.4 46.8h0M245.8 80.4h0M297.2 334.6h0M267.6 56.4h0M346.6 196.7h0M261.9 32.7h0M285.7 55.1h0M320.9 410.6h0M313.9 153.1h0M287.0 42.6h0M316.2 442.1h0M263.3 49.6h0M311.8 48.4h0M263.8 37.0h0M263.2 35.6h0M258.4 262.0h0M281.1 41.1h0M278.3 225.7h0M322.2 41.4h0M292.4 51.2h0M326.7 400.6h0M270.7 56.6h0M277.7 41.0h0M252.6 39.8h0M300.1 152.9h0M259.9 34.2h0M327.4 448.0h0M278.5 51.0h0M290.6 49.5h0M305.4 299.7h0M324.0 406.2h0M244.0 80.3h0M315.7 140.5h0M320.3 409.3h0M325.6 410.6h0M318.7 409.2h0M267.7 154.4h0M299.9 334.9h0M293.7 48.3h0M260.7 80.2h0M279.1 34.3h0M294.0 44.0h0M325.7 435.4h0M271.2 49.5h0M272.7 154.7h0M287.0 34.2h0M282.7 78.8h0M246.5 46.8h0M258.4 43.9h0M305.9 296.8h0M314.5 409.3h0M310.6 46.9h0M265.1 52.4h0M271.2 150.2h0M264.1 36.9h0M255.2 38.3h0M270.0 33.0h0M281.1 52.6h0M260.3 55.2h0M317.1 47.0h0M273.4 34.1h0M282.8 43.9h0M259.6 55.4h0M293.5 153.3h0M300.6 51.0h0M300.6 42.5h0M260.7 45.3h0M314.4 149.0h0M240.7 42.6h0M277.7 151.8h0M288.0 225.6h0M334.1 341.6h0M301.3 115.0h0M283.8 37.2h0M321.5 259.2h0M328.0 440.9h0"/>
<path stroke="#007ff6" d="M295.0 120.8h0M251.9 78.7h0M304.1 115.1h0M350.1 195.3h0M338.2 299.8h0M320.6 154.4h0M300.5 115.3h0M335.5 182.6h0M317.7 330.4h0M338.4 295.4h0M335.9 195.3h0M294.8 153.1h0M323.0 436.7h0M369.3 225.7h0M297.8 298.2h0M343.2 191.0h0M320.1 306.7h0M268.4 81.9h0M274.0 77.7h0M342.8 46.9h0M296.4 85.9h0M309.0 118.2h0M284.8 113.8h0M320.8 165.9h0M326.4 161.4h0M311.7 161.6h0M291.5 118.1h0M321.8 449.3h0M316.9 157.5h0M338.5 192.3h0M330.2 299.7h0M345.8 182.7h0M292.7 153.0h0M343.9 227.0h0M251.4 80.2h0M345.9 191.1h0M348.2 186.9h0M297.3 116.6h0M292.4 154.5h0M307.5 86.0h0M365.5 44.0h0M303.2 334.6h0M308.9 370.9h0M347.0 195.0h0M334.0 182.4h0M327.8 161.3h0M343.2 195.2h0M299.6 151.7h0M269.2 77.3h0M335.6 185.3h0M329.0 445.1h0M296.3 119.4h0M345.7 298.3h0M300.0 118.1h0M326.2 337.6h0M339.2 197.9h0M280.7 116.7h0M313.4 331.9h0M320.9 290.0h0M330.4 46.7h0M329.9 259.1h0M321.7 153.1h0M320.9 153.2h0M327.7 155.8h0M348.6 224.2h0M322.2 71.9h0M364.2 42.5h0M255.7 80.4h0M318.5 153.1h0M254.7 80.4h0M314.5 299.8h0"/>
<path stroke="#0072ef" d="M321.0 41.2h0M321.5 38.2h0M265.7 80.1h0M297.7 78.7h0M275.2 116.5h0M274.4 116.4h0M302.5 154.5h0M322.6 45.3h0M296.5 82.9h0M305.6 157.3h0M354.0 262.0h0M299.3 298.1h0M314.8 144.8h0M286.9 80.2h0M286.6 78.7h0M341.4 45.3h0M349.1 261.9h0M333.6 42.4h0M274.4 78.7h0M328.3 337.5h0M288.2 119.2h0M291.0 77.6h0M344.6 196.7h0M262.4 78.9h0M275.2 78.7h0M261.7 80.2h0M351.6 41.0h0M296.1 87.2h0M320.6 39.8h0M292.6 81.6h0M298.0 122.0h0"/>
<path stroke="#4b63e3" d="M287.1 85.7h0M305.5 113.7h0M349.6 44.0h0M328.5 150.3h0M270.9 80.2h0M300.3 120.8h0M312.9 80.2h0M328.7 81.8h0M296.9 82.9h0M274.9 83.2h0M310.8 116.4h0M293.2 76.0h0M290.0 84.6h0M302.1 69.0h0M308.6 82.9h0M299.8 150.3h0M305.1 154.4h0M264.4 78.7h0M355.9 45.2h0M337.5 182.5h0M360.8 225.7h0M331.0 192.2h0M356.8 46.6h0M315.5 147.4h0M340.6 228.4h0M279.5 115.2h0M287.6 117.8h0M332.2 44.2h0M319.9 150.3h0M245.8 116.7h0M315.4 86.0h0M335.2 186.9h0M345.6 192.4h0M316.4 67.7h0M297.9 152.9h0M314.3 70.6h0M298.8 78.9h0M310.2 73.5h0M300.1 70.6h0M329.0 161.6h0M330.0 39.8h0M368.0 225.6h0M343.5 192.2h0M303.1 151.5h0M288.4 76.1h0M281.5 115.4h0M338.9 224.1h0M305.1 74.7h0M319.3 373.8h0M310.0 160.0h0M317.2 160.1h0M311.7 148.9h0M340.9 48.2h0M277.5 116.7h0M329.0 373.8h0M340.4 41.2h0M321.7 161.6h0M316.1 151.6h0M336.4 42.7h0M311.4 116.5h0M343.1 44.0h0M298.7 122.0h0"/>
<path stroke="#7053d4" d="M313.0 146.2h0M330.3 186.8h0M332.7 77.6h0M261.3 78.9h0M359.7 42.8h0M359.1 225.6h0M295.5 77.7h0M265.5 116.5h0M290.0 80.2h0M316.5 144.7h0M335.6 264.9h0M312.4 83.2h0M307.8 115.3h0M330.4 227.1h0M331.6 84.7h0M303.7 70.6h0M324.3 69.0h0M262.4 81.7h0M340.9 185.2h0M365.0 225.6h0M324.8 439.6h0M297.6 89.9h0M291.8 80.4h0M324.8 224.0h0M305.4 87.1h0M327.5 214.5h0M320.8 443.9h0M298.8 115.2h0M340.0 221.3h0M305.9 77.4h0M307.7 157.2h0M333.7 342.9h0M337.4 46.8h0M327.0 150.5h0M318.4 447.7h0M295.8 229.8h0M328.8 76.1h0M320.2 376.6h0M302.2 83.3h0M325.3 370.9h0M302.2 156.0h0M314.0 88.8h0M335.4 220.0h0M290.8 86.1h0M319.1 376.6h0M350.3 42.7h0M319.7 337.5h0M284.2 118.1h0M319.2 161.6h0M333.7 180.9h0M344.4 298.5h0M322.5 308.3h0M294.5 84.5h0M300.6 227.1h0M309.0 86.1h0M326.3 144.5h0M323.1 373.7h0M323.9 266.1h0M325.9 157.2h0M286.6 76.1h0M322.6 379.5h0M313.6 150.2h0M346.8 228.5h0M338.0 229.7h0M308.0 70.3h0M310.1 80.5h0M319.5 165.6h0M326.8 78.8h0M313.9 298.2h0M333.5 259.0h0M309.0 70.5h0"/>
<path stroke="#893fc2" d="M298.1 297.1h0M338.0 78.9h0M323.8 148.9h0M322.4 195.2h0M329.7 157.2h0M309.1 74.5h0M335.1 73.4h0M327.7 106.9h0M288.4 79.0h0M328.0 309.5h0M333.4 327.5h0M328.5 235.4h0M316.9 84.7h0M330.6 372.6h0M313.3 69.3h0M313.4 372.4h0M306.1 88.6h0M348.4 76.2h0M313.1 301.0h0M316.1 157.2h0M309.8 295.5h0M329.7 223.0h0M326.0 299.5h0M303.0 221.5h0M336.8 222.6h0M313.7 76.1h0M299.0 70.3h0M304.1 88.8h0M312.3 144.8h0M324.0 270.5h0M304.2 77.4h0M333.4 108.1h0M316.7 142.1h0M374.2 42.8h0M342.2 219.8h0M328.5 195.3h0M315.7 88.6h0M321.1 452.0h0M310.5 83.2h0M317.4 369.7h0M354.5 225.8h0M307.1 222.7h0M311.6 224.4h0M326.7 255.0h0M345.1 76.2h0M340.2 125.0h0M329.7 219.9h0M367.0 42.5h0M331.2 151.6h0M326.4 443.7h0M336.5 90.0h0M320.9 361.4h0M338.2 231.4h0M331.3 191.1h0M317.7 81.8h0M322.7 449.2h0M320.9 366.9h0M277.8 115.2h0M340.5 72.0h0M354.3 43.9h0M335.5 88.7h0M321.1 145.9h0M309.0 73.1h0M322.5 253.6h0M317.0 292.7h0M314.1 87.2h0M326.4 257.7h0M331.7 299.7h0M319.9 222.6h0M306.4 154.5h0M324.6 86.0h0M307.9 225.5h0M328.9 151.6h0M311.4 81.9h0M322.6 228.4h0M346.7 222.8h0M331.0 182.5h0M309.6 221.5h0M320.1 341.8h0M314.5 158.9h0M334.4 259.2h0M328.3 236.6h0"/>
<path stroke="#9b24ad" d="M306.3 84.3h0M318.7 154.6h0M322.4 183.8h0M340.0 116.7h0M360.7 41.2h0M332.0 371.2h0M329.2 298.2h0M301.8 225.7h0M324.5 193.8h0M338.7 220.1h0M326.4 178.2h0M330.4 126.3h0M320.7 185.3h0M340.4 81.8h0M323.0 368.4h0M329.0 367.0h0M346.9 81.7h0M371.1 41.3h0M337.5 334.6h0M325.6 375.4h0M329.2 306.6h0M309.9 78.9h0M312.1 217.2h0M316.0 90.1h0M332.9 294.0h0M345.3 118.0h0M318.8 230.0h0M320.9 365.5h0M364.0 76.2h0M335.0 118.1h0M330.0 189.5h0M323.7 91.6h0M324.5 185.4h0M318.6 334.6h0M319.5 227.1h0M329.2 183.9h0M334.4 46.6h0M325.1 80.4h0M318.3 366.9h0M321.2 224.3h0M336.1 300.9h0M338.9 119.3h0M342.6 111.1h0M321.9 364.1h0M341.3 334.9h0M311.8 73.5h0M333.0 224.2h0M360.2 77.4h0M339.0 83.2h0M312.7 219.9h0M308.4 224.4h0M326.1 305.2h0M337.8 115.3h0M328.6 193.5h0M377.6 44.2h0M385.5 76.0h0M331.1 125.2h0M325.7 232.8h0M360.6 46.8h0M313.8 74.9h0M307.4 231.2h0M306.3 71.8h0M350.9 80.3h0M319.3 236.9h0M322.6 117.8h0M332.5 260.6h0M367.0 46.8h0M341.6 77.4h0M337.8 120.9h0M327.6 183.7h0M322.0 218.7h0M323.4 193.8h0M337.4 109.4h0"/>
<path stroke="#b607a2" d="M364.8 76.2h0M366.0 76.1h0M329.5 84.4h0M356.9 84.6h0M337.6 225.5h0M330.1 111.1h0M371.7 77.4h0M327.2 154.4h0M331.3 295.6h0M343.3 122.4h0M331.6 342.9h0M336.5 147.7h0M326.8 69.3h0M322.6 119.2h0M316.1 333.4h0M316.0 214.4h0M342.1 106.9h0M341.4 109.6h0M340.3 88.8h0M324.8 67.5h0M355.8 83.1h0M336.1 215.7h0M314.8 222.9h0M337.7 105.4h0M346.5 78.7h0M330.4 116.4h0M334.8 106.8h0M320.9 182.6h0M324.5 181.1h0M311.8 222.9h0M330.2 236.6h0M332.1 103.8h0M327.1 188.0h0M322.0 333.2h0M313.0 189.5h0M330.2 144.5h0M318.6 119.5h0M326.9 366.9h0M331.3 77.4h0M333.1 295.4h0M318.4 148.9h0M334.2 123.5h0M332.3 106.8h0M334.8 74.6h0M360.9 76.2h0M335.9 303.7h0M309.7 222.7h0M341.8 119.4h0M314.4 369.8h0M336.5 109.4h0M375.8 83.2h0M322.7 115.3h0M314.6 260.8h0M372.3 42.6h0M325.9 236.6h0M322.4 446.5h0M336.3 334.8h0M336.8 149.0h0M321.4 372.6h0M383.0 83.0h0M322.6 213.0h0M337.6 122.3h0M317.1 73.3h0M326.4 228.3h0M325.5 369.6h0M324.5 339.1h0M366.0 42.5h0M333.6 86.0h0M350.1 78.8h0M338.1 301.1h0M343.2 108.4h0"/>
<path stroke="#cd0095" d="M325.8 226.8h0M317.1 192.5h0M324.2 192.4h0M342.6 109.4h0M315.5 234.1h0M327.6 196.4h0M337.4 71.9h0M336.9 225.7h0M373.0 41.0h0M332.1 369.6h0M313.2 369.9h0M343.8 117.9h0M334.4 369.8h0M383.3 45.3h0M308.5 186.7h0M337.6 158.6h0M374.1 83.2h0M316.6 221.5h0M328.1 345.7h0M344.6 113.8h0M329.5 231.3h0M324.8 116.5h0M340.4 103.9h0M322.5 181.3h0M315.4 193.6h0M315.7 227.0h0M342.2 117.8h0M368.0 77.6h0M307.8 193.6h0M310.3 192.2h0M363.1 78.9h0M321.6 439.5h0M351.0 74.8h0M346.9 74.8h0M329.0 114.0h0M330.6 88.7h0M316.2 231.4h0M332.8 88.8h0M333.4 119.3h0M327.0 311.0h0M347.9 83.0h0M373.1 77.6h0M337.4 76.1h0M318.7 118.1h0M351.1 118.1h0M323.1 119.4h0M334.3 327.7h0M319.5 115.3h0M365.3 83.1h0M383.2 80.3h0M326.0 195.1h0M340.2 115.1h0"/>
<path stroke="#e00086" d="M394.6 80.3h0M356.4 113.9h0M360.6 84.6h0M345.8 154.5h0M313.6 190.8h0M317.9 221.6h0M348.2 154.3h0M376.6 42.6h0M329.6 221.5h0M334.1 160.2h0M336.0 151.7h0M358.6 74.5h0M318.1 116.6h0M342.2 123.7h0M317.4 222.7h0M331.5 232.6h0M354.9 112.3h0M361.3 80.4h0M317.5 193.8h0M389.6 81.8h0M336.5 146.3h0M354.3 114.0h0M335.0 120.8h0M329.4 182.3h0M384.0 83.3h0M357.0 74.6h0M292.2 262.1h0M340.3 80.5h0M344.2 151.7h0M389.6 79.0h0M385.0 44.1h0M386.1 80.2h0M381.7 78.9h0M342.7 156.1h0M323.5 378.3h0M318.2 215.9h0M357.2 111.1h0M330.9 150.4h0M339.0 156.0h0"/>
<path stroke="#ef0075" d="M328.6 110.9h0M326.2 199.2h0M408.6 80.4h0M346.6 334.8h0M312.8 225.6h0M301.6 191.1h0M336.9 155.8h0M347.0 111.1h0M362.5 118.1h0M318.8 225.7h0M393.5 43.9h0M361.6 118.0h0M388.6 42.6h0M362.0 116.6h0M304.2 299.5h0M337.8 371.3h0M336.3 219.9h0M338.8 151.9h0M348.1 116.4h0M315.9 196.7h0M386.8 42.5h0M319.3 113.9h0M388.2 81.7h0M303.0 231.0h0"/>
<path stroke="#fb0064" d="M359.3 74.5h0M352.9 120.8h0M329.6 127.7h0M315.3 302.6h0M327.4 288.7h0M325.8 329.2h0M318.3 296.7h0M379.6 116.5h0M337.5 155.9h0M345.3 112.2h0M307.0 193.5h0M333.5 333.4h0M305.3 72.0h0M332.3 125.0h0M323.4 226.9h0M333.0 338.8h0M324.9 70.3h0M339.2 106.8h0M308.0 218.7h0M324.3 225.5h0M316.7 336.1h0M309.1 69.0h0M306.3 226.8h0M361.0 120.8h0M304.5 232.7h0M302.5 229.7h0M341.0 189.5h0M339.0 109.4h0M330.5 291.3h0M358.5 114.0h0M353.0 151.9h0M295.9 224.1h0M339.3 122.4h0M296.7 221.3h0M333.4 340.4h0M326.5 269.0h0M312.8 116.7h0M358.2 84.6h0M338.5 294.0h0M328.2 302.4h0M323.4 256.3h0M314.1 185.1h0M366.8 115.1h0M365.2 119.2h0M329.2 331.9h0M314.4 196.7h0M326.4 224.3h0M288.9 225.7h0M334.6 337.6h0M319.6 231.1h0M342.3 336.0h0M313.3 185.4h0M307.6 80.4h0M324.0 184.0h0M322.0 326.4h0M351.8 151.6h0M334.7 333.1h0M358.2 116.7h0M319.4 218.4h0M342.9 296.9h0M319.7 225.5h0M310.9 188.2h0M327.5 71.8h0M343.8 84.6h0M337.3 83.2h0M318.5 333.5h0M327.5 232.6h0M363.6 118.1h0M324.0 256.2h0M344.2 123.5h0M346.6 150.3h0M324.9 287.2h0"/>
<path stroke="#ff0051" d="M339.9 150.2h0M290.7 225.6h0M310.2 183.7h0M418.4 44.2h0M397.4 42.5h0M357.3 371.0h0M293.8 261.9h0M403.1 407.5h0M414.1 443.5h0M339.8 295.7h0M540.0 44.0h0M332.4 235.6h0M326.3 287.3h0M285.0 189.7h0M290.3 298.2h0M297.8 185.1h0M290.0 188.1h0M299.3 188.1h0M298.2 193.6h0M555.6 44.0h0M356.7 81.7h0M311.1 189.4h0M292.5 188.3h0M299.9 191.0h0M349.6 120.8h0M294.6 188.1h0M315.4 189.6h0M367.7 152.9h0M292.1 189.6h0M306.0 190.7h0M356.3 370.9h0M342.7 85.8h0M294.9 225.7h0M328.6 228.5h0M402.9 44.1h0M420.4 44.1h0M309.0 186.9h0M321.0 225.7h0M302.9 185.5h0M364.7 262.2h0M349.3 113.7h0M328.0 299.9h0M417.0 80.3h0M359.5 116.6h0M369.8 116.5h0M287.0 188.0h0M324.8 71.9h0M278.3 189.6h0M365.8 443.8h0M320.2 91.3h0M347.9 151.7h0M389.3 152.9h0M322.6 301.0h0M355.6 116.5h0M396.7 153.1h0M306.0 186.7h0M378.9 407.8h0M315.4 87.4h0M384.2 153.2h0M382.0 116.8h0M303.0 224.2h0M374.3 153.0h0M351.7 120.7h0M406.7 43.9h0M320.0 235.4h0M370.6 261.8h0M297.4 188.2h0M425.9 44.0h0M340.8 112.5h0M365.2 80.4h0M325.6 266.2h0M348.6 119.5h0M429.6 80.2h0M321.5 83.2h0M398.5 42.4h0M377.4 407.6h0M347.1 113.9h0M313.4 192.4h0M337.9 110.8h0M364.1 153.3h0M343.6 334.8h0M392.5 407.5h0M334.3 235.6h0M321.3 332.0h0M345.8 262.1h0M340.1 332.1h0M306.3 186.8h0M329.5 297.1h0M346.2 299.8h0M298.5 222.9h0M319.9 224.4h0M401.2 44.0h0M326.4 298.4h0M367.9 189.5h0M356.1 110.8h0M396.0 42.5h0M361.1 153.2h0M329.5 120.7h0M298.2 192.5h0M363.6 189.4h0M285.7 189.5h0M308.3 217.3h0M336.2 331.8h0M404.9 80.4h0M304.3 186.8h0M299.3 189.6h0M359.7 443.5h0M371.2 115.4h0M374.7 116.7h0"/>
<path stroke="#008bfb" d="M322.2 158.8h0M315.7 298.4h0M320.5 336.0h0M285.4 52.3h0M321.5 436.7h0M322.8 264.9h0M325.8 264.7h0M306.0 49.7h0M322.5 296.7h0M250.4 44.0h0M325.5 406.1h0M327.5 403.5h0M221.1 80.4h0M265.4 49.7h0M250.7 45.4h0M320.5 413.3h0M326.5 264.6h0M285.1 53.8h0M303.1 48.4h0M288.3 37.1h0M397.1 225.6h0M242.7 43.9h0M266.8 155.9h0M275.8 153.1h0M258.5 79.0h0M279.8 38.3h0M319.8 410.7h0M307.6 43.9h0M269.8 35.8h0M321.7 160.1h0M270.6 35.6h0M310.2 44.2h0M285.8 74.8h0M323.9 268.9h0M331.4 326.4h0M260.9 49.7h0M278.1 154.6h0M301.4 119.5h0M325.5 405.1h0M307.3 299.9h0M304.1 44.2h0M276.4 55.3h0M258.3 81.6h0M269.5 48.3h0M289.0 51.1h0M314.9 44.1h0M399.0 225.6h0M341.6 191.0h0M283.1 45.2h0M262.0 36.8h0M282.5 262.0h0M319.8 403.4h0M297.9 39.6h0M295.3 334.6h0M272.5 46.8h0M285.9 48.3h0M250.1 48.1h0M344.7 193.7h0M302.4 46.6h0M267.7 34.0h0M317.3 336.1h0M266.9 49.4h0M277.2 225.7h0M256.0 46.9h0M270.7 262.0h0M310.2 157.1h0M302.3 39.9h0M297.6 49.5h0M290.4 41.3h0M285.6 51.0h0M353.7 189.4h0M264.2 32.9h0M316.5 409.1h0M279.7 47.0h0M283.2 52.6h0M289.8 334.8h0M246.7 80.2h0M251.8 153.2h0M255.1 49.7h0M261.0 41.2h0M325.6 259.3h0M277.5 34.2h0M296.1 38.2h0M312.7 334.5h0M259.5 45.5h0M285.5 44.1h0M270.1 38.3h0M289.1 37.1h0M272.3 35.5h0M322.8 417.6h0M265.4 151.6h0M312.7 46.7h0M262.0 34.2h0M331.4 45.3h0M323.9 327.8h0M278.6 41.1h0M275.3 80.2h0M321.6 411.9h0M268.5 42.4h0M248.6 46.9h0M296.8 38.4h0M329.3 345.9h0M298.6 149.0h0M275.1 225.5h0M279.0 151.6h0M298.9 43.9h0M263.1 53.8h0M322.4 450.7h0M234.6 43.9h0M323.2 332.1h0M254.4 42.5h0M295.4 154.4h0M323.1 411.8h0M281.3 46.9h0M226.7 80.3h0M326.1 439.6h0M285.9 39.8h0M272.5 262.0h0M328.4 344.6h0M259.6 43.9h0M300.8 39.9h0M282.4 151.7h0M268.1 38.5h0M299.9 38.3h0M291.7 334.7h0M288.5 42.7h0M257.3 38.2h0M275.5 41.1h0M309.0 45.5h0M262.1 52.2h0M328.3 269.0h0M300.6 44.1h0M284.5 48.3h0M328.1 411.8h0M282.7 46.9h0M266.0 48.2h0M259.3 51.0h0M269.8 43.8h0M263.4 48.2h0M300.6 334.6h0M309.6 48.2h0M323.1 259.1h0M278.9 42.8h0M224.9 80.1h0M278.9 46.9h0M271.8 154.6h0M289.0 49.5h0M271.5 45.4h0M270.5 154.3h0M311.7 302.4h0M262.2 40.0h0M327.7 404.8h0M259.2 38.4h0M263.6 42.8h0M404.4 225.6h0M359.0 189.3h0M319.0 263.5h0M320.5 141.9h0M298.7 117.9h0M331.2 266.2h0M280.7 41.3h0M257.2 46.9h0M308.0 49.5h0M276.8 46.9h0M283.6 38.5h0M303.9 46.7h0M297.4 113.7h0M309.4 116.4h0M263.4 152.9h0M278.8 35.7h0M341.6 295.6h0M269.5 34.3h0M277.7 52.5h0M315.0 407.7h0M308.1 296.9h0M212.0 80.3h0M264.3 261.9h0M290.1 151.7h0M311.6 160.2h0M326.0 436.8h0M278.1 44.1h0M317.1 406.5h0M378.6 225.4h0M316.9 444.9h0M354.6 189.3h0M264.1 41.1h0M321.1 399.3h0M233.7 43.9h0M321.0 406.2h0M320.1 151.7h0M256.7 262.0h0M305.3 42.5h0M294.1 151.9h0M266.2 151.8h0M313.9 154.5h0M326.7 406.2h0M313.9 40.0h0M269.4 42.8h0M317.4 443.7h0M275.5 35.6h0M252.4 48.3h0M250.2 41.1h0M260.4 52.3h0M276.7 153.2h0M293.7 116.7h0M324.2 413.3h0M281.5 154.6h0M311.0 147.7h0M319.9 162.8h0M267.6 44.2h0M322.1 396.6h0M338.5 263.2h0M299.9 112.5h0M287.2 153.3h0M255.7 44.1h0M325.6 407.7h0M293.4 36.9h0M320.9 453.4h0M249.4 43.9h0M242.7 42.7h0M254.5 43.9h0M305.2 48.0h0M282.8 49.8h0M307.3 41.0h0M322.2 414.6h0M322.9 403.6h0M253.3 42.7h0M270.9 34.1h0M323.0 402.1h0M288.9 42.8h0M266.9 31.5h0M309.1 115.4h0M256.7 42.5h0M262.4 41.1h0M228.7 80.3h0M278.4 153.2h0"/>
<path stroke="#007ff6" d="M301.7 151.8h0M327.7 158.5h0M334.9 193.5h0M297.6 112.5h0M300.1 73.3h0M332.0 303.9h0M317.3 333.4h0M345.4 187.9h0M310.5 151.5h0M291.0 152.9h0M323.1 270.3h0M345.8 296.9h0M315.9 158.7h0M260.8 81.8h0M315.6 445.1h0M284.4 116.8h0M335.0 329.2h0M394.9 225.8h0M282.0 117.9h0M267.6 80.4h0M308.1 118.1h0M345.5 184.0h0M266.4 79.0h0M340.3 260.7h0M326.5 263.5h0M324.4 308.0h0M299.5 77.4h0M311.9 336.2h0M340.0 297.0h0M283.2 156.0h0M326.4 291.2h0M344.1 188.0h0M272.8 81.8h0M265.9 81.6h0M266.8 153.1h0M306.8 119.4h0M342.7 189.4h0M328.4 255.1h0M341.6 193.7h0M288.8 150.4h0M349.6 225.4h0M338.0 195.0h0M322.2 305.3h0M331.4 188.3h0M296.8 74.5h0M301.4 112.6h0M254.5 78.8h0M325.4 42.7h0M344.7 262.1h0M328.8 295.5h0M325.1 260.6h0M348.9 192.4h0M297.7 120.9h0M318.9 290.0h0M274.3 80.4h0M321.2 305.3h0M334.0 45.4h0M319.4 157.2h0M341.8 186.6h0M274.5 151.5h0M348.0 185.3h0M327.4 148.8h0M302.2 119.5h0M248.9 80.5h0M355.3 262.0h0M276.3 81.8h0M331.2 157.3h0M336.9 186.5h0M272.3 78.8h0M298.3 112.6h0M264.7 80.2h0M321.8 450.5h0M316.0 149.0h0M319.8 260.4h0M330.6 38.3h0M325.9 343.2h0M352.8 193.8h0"/>
<path stroke="#0072ef" d="M307.5 262.1h0M331.8 42.5h0M296.0 117.9h0M269.3 115.2h0M329.6 43.9h0M310.8 81.9h0M278.3 81.5h0M284.0 115.4h0M344.3 41.1h0M280.5 81.9h0M250.9 116.7h0M300.1 76.3h0M276.4 115.3h0M340.8 195.2h0M324.7 45.4h0M306.7 152.9h0M284.4 81.8h0M313.5 154.7h0M301.6 153.0h0M322.2 45.5h0M363.3 44.0h0M278.6 83.3h0M278.7 78.9h0M294.8 113.9h0M338.7 40.0h0M316.6 44.0h0M314.9 151.8h0M288.8 120.7h0M314.5 69.1h0M298.4 111.1h0M295.6 70.3h0M275.5 115.2h0M308.1 84.3h0M257.3 78.9h0M319.9 447.8h0M333.0 263.6h0M303.0 90.2h0M313.2 48.4h0M305.6 115.2h0M294.8 88.8h0M299.0 153.0h0M268.2 80.3h0M353.2 185.3h0M298.4 113.9h0M329.9 42.8h0M290.5 80.1h0M296.1 113.7h0"/>
<path stroke="#4b63e3" d="M319.9 375.2h0M335.6 294.3h0M312.2 150.1h0M317.3 88.5h0M319.0 83.1h0M309.3 90.0h0M351.8 189.3h0M318.1 78.9h0M345.0 46.8h0M303.7 73.2h0M369.4 41.0h0M303.5 153.2h0M307.7 73.2h0M281.6 116.4h0M323.0 71.8h0M304.3 79.1h0M290.7 119.2h0M328.2 44.0h0M344.3 183.8h0M316.9 295.5h0M329.6 442.5h0M318.0 141.8h0M302.7 118.0h0M330.5 44.0h0M305.6 88.9h0M285.7 80.1h0M356.0 43.9h0M263.1 80.2h0M290.0 118.1h0M302.5 84.6h0M336.4 224.4h0M316.4 79.0h0M311.7 154.4h0M328.2 45.3h0M297.0 88.6h0M337.5 191.0h0M357.4 48.1h0M312.5 371.2h0M281.3 76.0h0M299.1 84.4h0M323.8 79.0h0M268.7 117.8h0M323.9 162.9h0M343.4 43.8h0M289.5 115.1h0M266.1 118.0h0M352.1 224.2h0M327.7 157.2h0M295.0 75.9h0M331.8 193.6h0"/>
<path stroke="#7053d4" d="M318.0 151.8h0M317.1 80.5h0M373.9 46.8h0M328.7 302.3h0M308.6 76.1h0M331.3 109.8h0M288.3 74.7h0M280.9 83.2h0M309.1 152.9h0M316.7 151.7h0M333.6 44.1h0M328.4 374.0h0M313.9 77.3h0M338.9 188.1h0M338.0 333.5h0M320.5 157.3h0M321.6 302.5h0M330.1 74.7h0M320.3 78.8h0M370.8 39.8h0M338.1 219.8h0M340.2 186.7h0M349.0 224.3h0M307.1 115.3h0M325.3 263.5h0M310.1 71.8h0M310.6 87.4h0M314.6 84.5h0M295.8 111.1h0M307.8 74.6h0M333.0 157.4h0M325.5 74.8h0M292.9 77.3h0M350.9 43.9h0M315.2 143.2h0M325.8 45.3h0M340.5 227.0h0M366.3 46.7h0M304.9 76.2h0M311.5 157.2h0M364.2 41.3h0M315.2 152.9h0M344.5 191.0h0M315.7 299.7h0M332.3 182.5h0M316.0 164.3h0M306.3 150.2h0M337.1 182.3h0M324.4 77.4h0M345.7 44.0h0M321.3 375.2h0M325.8 333.4h0M333.2 184.1h0M354.7 188.2h0M340.9 184.0h0M302.8 76.2h0M323.3 153.0h0M328.1 71.9h0M297.0 81.6h0M320.5 82.9h0M309.1 150.4h0M328.7 375.5h0M332.8 84.5h0M332.3 234.1h0M334.5 191.0h0"/>
<path stroke="#893fc2" d="M323.9 215.7h0M352.0 42.7h0M326.5 152.9h0M323.1 225.6h0M312.9 77.6h0M329.3 88.7h0M331.7 160.1h0M324.1 454.9h0M310.7 69.1h0M273.3 117.8h0M326.1 295.4h0M270.2 118.0h0M338.6 87.3h0M321.4 214.5h0M316.3 263.5h0M340.6 224.2h0M333.6 147.4h0M328.8 197.7h0M326.5 330.3h0M325.5 78.7h0M326.8 260.8h0M307.9 228.5h0M325.5 268.8h0M330.3 87.3h0M350.3 225.6h0M322.1 88.8h0M333.4 324.8h0M303.9 116.5h0M373.0 45.3h0M335.4 228.6h0M334.8 225.6h0M324.9 450.6h0M325.0 445.3h0M330.1 148.7h0M325.0 228.3h0M316.6 156.0h0M325.5 70.7h0M318.5 222.9h0M327.0 344.7h0M312.0 74.8h0M326.1 369.5h0M313.0 88.7h0M329.8 150.2h0M287.0 83.2h0M328.4 70.5h0M321.1 369.7h0M327.6 192.4h0M318.5 298.4h0M331.9 195.0h0M315.7 71.9h0M328.0 186.6h0M352.4 74.6h0M340.7 229.9h0M309.3 87.4h0M332.0 332.1h0M324.2 326.3h0M316.4 69.2h0M330.4 374.0h0M305.5 78.7h0M339.2 228.3h0M327.5 126.4h0M323.4 161.4h0M315.5 69.1h0M344.0 224.1h0M311.4 77.3h0M323.0 365.4h0M350.9 46.8h0M321.5 73.3h0M331.5 120.7h0M332.9 160.3h0M317.3 259.2h0M321.1 144.6h0M319.2 74.5h0M335.9 330.5h0M329.1 146.1h0M321.6 378.3h0M331.8 106.8h0M325.0 372.5h0M326.1 179.6h0M327.7 263.5h0M318.4 143.5h0M324.5 178.3h0M327.2 220.1h0M352.3 192.4h0M330.3 70.7h0"/>
<path stroke="#9b24ad" d="M330.3 215.8h0M325.1 81.5h0M321.5 190.9h0M332.7 83.0h0M317.5 299.8h0M323.4 80.2h0M370.9 80.3h0M338.0 126.4h0M332.1 119.6h0M312.6 261.9h0M321.4 301.0h0M311.3 229.9h0M319.4 71.9h0M264.7 118.2h0M349.7 74.8h0M335.2 76.2h0M352.4 371.1h0M293.9 224.2h0M322.0 93.0h0M343.5 42.6h0M335.1 82.9h0M331.3 81.6h0M324.9 218.8h0M318.8 372.5h0M322.5 217.3h0M332.5 218.7h0M367.6 81.5h0M349.6 79.1h0M311.6 220.2h0M334.6 260.5h0M332.0 302.5h0M321.1 228.2h0M303.3 83.1h0M330.8 224.0h0M326.7 192.4h0M314.7 372.5h0M324.9 301.1h0M374.6 42.5h0M330.2 232.7h0M321.1 298.3h0M343.5 48.3h0M345.5 221.2h0M323.3 176.9h0M333.6 225.4h0M334.3 330.6h0M327.3 217.0h0M298.7 71.9h0M316.5 259.0h0M336.5 293.9h0M320.2 86.0h0M300.1 79.1h0M326.3 115.1h0M313.9 228.3h0M323.7 213.1h0M366.4 41.2h0M324.3 441.0h0M328.3 117.9h0M340.7 85.7h0M313.2 235.2h0M395.8 81.6h0M292.6 228.4h0M311.6 225.4h0M323.9 372.6h0M329.7 161.6h0M323.4 310.8h0M322.9 326.1h0M318.5 88.7h0M320.5 226.9h0M328.1 325.1h0M326.7 446.5h0M333.5 292.7h0M321.6 374.1h0M342.4 84.7h0M332.2 327.6h0M324.5 260.4h0M324.8 376.7h0M327.3 74.7h0M325.8 108.4h0M319.4 70.6h0M324.8 235.3h0M334.0 74.8h0"/>
<path stroke="#b607a2" d="M344.0 119.3h0M322.9 70.7h0M342.5 76.1h0M331.7 292.9h0M318.6 85.9h0M327.8 120.7h0M335.5 154.6h0M331.4 122.1h0M334.9 123.6h0M331.1 146.3h0M315.3 225.4h0M329.0 74.9h0M361.2 42.6h0M333.5 337.6h0M320.4 378.2h0M316.5 235.3h0M321.9 70.4h0M322.0 113.8h0M317.4 230.0h0M332.8 108.3h0M344.6 80.4h0M330.2 229.8h0M324.7 122.2h0M335.5 111.0h0M335.2 122.1h0M320.7 193.7h0M351.7 109.5h0M328.8 333.2h0M314.4 225.4h0M335.6 148.9h0M328.9 232.7h0M332.9 329.0h0M312.4 181.2h0M368.8 79.0h0M327.6 224.3h0M381.0 82.9h0M332.6 301.1h0M382.1 44.2h0M343.0 83.0h0M323.0 372.6h0M337.1 73.2h0M325.0 120.7h0M325.2 215.7h0M324.1 362.5h0M345.0 86.1h0M348.4 86.0h0M324.8 119.4h0M378.8 42.5h0M331.1 154.6h0M323.3 116.7h0M331.7 221.2h0M334.7 150.5h0M341.3 73.1h0M318.8 195.1h0M332.1 71.8h0M331.6 118.0h0M328.9 123.7h0M335.7 125.1h0M315.4 371.1h0M337.2 80.2h0M328.6 109.8h0M330.3 196.6h0M346.8 76.1h0M371.8 81.5h0M337.5 113.6h0M326.3 303.9h0M324.5 90.1h0M369.9 77.5h0"/>
<path stroke="#cd0095" d="M347.3 112.2h0M385.7 83.2h0M342.4 333.3h0M333.1 372.7h0M333.2 84.4h0M335.8 85.9h0M370.5 83.0h0M322.8 371.1h0M377.2 42.5h0M309.6 190.9h0M337.7 228.2h0M386.0 79.1h0M316.1 218.6h0M351.7 80.3h0M318.6 235.5h0M387.2 79.0h0M326.9 118.0h0M314.6 234.1h0M377.6 80.3h0M327.2 108.3h0M330.5 367.0h0M340.2 119.3h0M331.7 225.7h0M309.3 196.7h0M340.2 126.6h0M321.3 116.5h0M399.7 80.5h0M312.8 182.6h0M349.8 298.4h0M387.8 47.0h0M386.6 81.7h0M318.1 263.4h0M350.5 77.5h0M328.1 368.4h0M322.4 238.0h0M325.2 291.2h0M361.8 82.9h0M318.0 188.0h0M335.7 235.3h0M328.3 375.2h0M323.9 115.2h0M328.5 189.4h0M330.1 298.4h0M313.8 196.7h0M329.7 217.0h0M372.3 78.8h0M324.7 295.4h0M315.1 182.5h0M322.5 116.7h0M335.2 234.1h0M315.5 224.1h0M344.7 108.1h0M312.9 188.1h0M315.9 217.1h0M336.7 295.6h0M341.0 74.7h0M332.4 150.3h0"/>
<path stroke="#e00086" d="M314.4 218.6h0M382.3 83.0h0M347.6 73.4h0M372.5 81.5h0M327.3 195.2h0M393.4 81.9h0M305.1 192.4h0M398.3 80.4h0M338.1 77.4h0M391.0 80.3h0M318.0 219.9h0M328.9 301.0h0M364.6 74.9h0M380.6 45.3h0M341.4 336.0h0M367.3 80.3h0M317.8 232.6h0M317.3 228.2h0M318.2 182.3h0M315.5 184.1h0M314.6 195.0h0M337.6 123.6h0M361.8 81.6h0M336.2 154.7h0M315.9 185.1h0M315.5 222.7h0M327.5 233.9h0"/>
<path stroke="#ef0075" d="M312.3 227.2h0M362.4 78.9h0M314.5 231.3h0M392.5 81.5h0M387.3 43.9h0M320.9 306.8h0M304.0 221.5h0M353.4 116.8h0M392.1 42.6h0M397.0 45.2h0M317.0 194.9h0M316.5 337.5h0M315.2 261.8h0M349.8 154.3h0M384.7 81.9h0M389.3 45.4h0M316.7 183.9h0M351.9 110.9h0M359.5 82.9h0M339.0 148.9h0M325.6 289.7h0M317.4 186.6h0M324.6 250.7h0M319.9 193.7h0M362.8 80.3h0M330.4 306.7h0M307.0 231.1h0M364.1 113.7h0M349.3 155.7h0M353.0 154.5h0M318.3 185.3h0M340.0 149.0h0M301.7 188.2h0"/>
<path stroke="#fb0064" d="M321.4 183.8h0M327.4 115.3h0M334.8 119.2h0M395.9 44.1h0M325.3 308.1h0M320.6 219.9h0M314.7 190.8h0M325.8 189.3h0M317.8 297.0h0M329.6 340.5h0M327.8 295.4h0M328.8 299.7h0M306.3 195.0h0M309.3 72.0h0M322.4 221.2h0M357.2 78.7h0M322.0 202.0h0M337.5 338.8h0M300.3 262.2h0M339.3 112.5h0M328.9 305.3h0M334.7 334.5h0M323.2 329.1h0M319.9 257.6h0M362.3 153.1h0M314.4 235.3h0M350.5 112.5h0M338.7 331.9h0M322.5 191.0h0M321.3 199.4h0M316.1 192.4h0M325.7 71.7h0M323.1 217.4h0M325.5 179.9h0M300.5 231.2h0M337.4 106.7h0M321.6 335.9h0M301.6 185.2h0M323.5 287.1h0M334.0 294.0h0M360.0 85.8h0M311.8 221.3h0M328.5 327.6h0M384.2 44.1h0M310.6 221.4h0M340.9 127.7h0M321.6 198.0h0M304.4 190.8h0M324.3 292.6h0M304.1 188.1h0M330.7 344.4h0M294.5 229.7h0M325.2 288.4h0M301.4 229.8h0M323.4 200.7h0M363.8 115.3h0M350.4 154.7h0M325.9 193.7h0M328.2 106.9h0M343.9 126.4h0M342.8 113.9h0M339.0 264.8h0M311.0 298.3h0M296.3 228.2h0M353.9 115.4h0M342.3 334.6h0M342.5 115.3h0M314.2 232.7h0M355.3 78.7h0M326.3 114.0h0M325.8 229.6h0M330.2 73.4h0M333.0 232.6h0"/>
<path stroke="#ff0051" d="M412.7 80.3h0M372.0 153.3h0M294.0 192.4h0M310.2 224.2h0M320.4 289.8h0M372.6 115.2h0M336.9 260.7h0M370.8 189.6h0M344.2 157.1h0M420.0 80.2h0M386.9 153.3h0M322.3 330.3h0M423.5 80.2h0M375.7 118.0h0M331.6 333.4h0M321.1 303.7h0M383.1 153.0h0M400.5 153.1h0M410.7 407.7h0M303.7 225.7h0M293.3 186.7h0M285.9 190.8h0M326.6 340.4h0M344.5 109.6h0M299.0 195.1h0M322.1 302.6h0M456.0 153.1h0M334.3 299.9h0M331.6 294.0h0M430.6 43.9h0M321.5 295.6h0M324.3 294.3h0M287.6 191.1h0M349.6 123.5h0M424.4 44.1h0M303.8 231.3h0M298.6 226.8h0M322.7 222.8h0M320.1 331.9h0M407.6 407.5h0M332.6 369.7h0M332.2 296.9h0M305.1 226.9h0M374.3 115.3h0M313.3 299.7h0M346.1 153.1h0M415.6 443.9h0M339.1 81.7h0M301.9 224.3h0M323.5 181.0h0M298.8 186.5h0M344.5 74.8h0M376.4 153.0h0M331.5 230.0h0M410.1 44.0h0M311.0 334.5h0M333.4 305.2h0M392.9 443.7h0M328.0 336.1h0M329.7 257.9h0M346.0 113.7h0M409.5 443.7h0M288.8 189.4h0M340.7 90.3h0M322.5 81.5h0M353.7 119.5h0M301.5 186.7h0M409.4 153.1h0M398.6 153.2h0M326.2 123.4h0M306.9 192.3h0M332.1 216.0h0M285.8 225.4h0M356.1 85.9h0M356.8 123.7h0M291.3 189.5h0M395.9 443.9h0M358.2 443.7h0M326.5 302.6h0M348.7 153.3h0M344.4 153.2h0M357.1 112.4h0M412.2 407.9h0M334.3 127.8h0M366.7 116.5h0M385.0 407.5h0M358.8 371.2h0M386.1 116.5h0M305.8 195.2h0M353.9 117.9h0M362.6 119.6h0M380.9 443.6h0M402.4 80.3h0"/>
<path stroke="#008bfb" d="M298.5 46.9h0M320.6 45.5h0M276.6 38.2h0M302.4 48.0h0M269.3 41.2h0M265.5 47.0h0M245.4 42.5h0M265.8 261.8h0M287.5 334.6h0M351.5 186.7h0M330.9 404.9h0M287.5 34.3h0M352.8 186.8h0M273.3 225.7h0M329.0 291.2h0M267.5 37.0h0M280.5 48.2h0M326.4 404.9h0M319.9 407.7h0M285.4 151.9h0M262.3 42.7h0M279.3 37.0h0M263.7 32.9h0M268.9 50.8h0M288.1 154.6h0M304.4 45.3h0M251.5 39.7h0M290.3 261.9h0M309.1 46.7h0M325.8 41.2h0M317.8 446.3h0M323.7 410.4h0M329.3 407.6h0M301.0 46.7h0M310.9 333.3h0M260.5 46.8h0M286.2 52.5h0M284.7 153.3h0M243.9 42.7h0M277.2 154.6h0M271.7 153.1h0M297.5 52.5h0M319.6 443.9h0M267.8 151.5h0M259.8 48.0h0M290.9 38.4h0M287.0 49.5h0M323.5 398.0h0M340.1 189.6h0M239.1 153.3h0M256.3 39.8h0M262.9 38.3h0M349.5 371.1h0M249.9 46.7h0M264.4 35.5h0M257.7 35.4h0M316.6 443.7h0M318.0 147.4h0M243.3 153.2h0M343.1 371.1h0M313.6 407.7h0M310.6 301.2h0M241.7 153.2h0M206.0 80.5h0M315.7 156.1h0M340.9 298.3h0M319.4 45.5h0M322.7 398.0h0M311.1 41.2h0M332.1 409.2h0M304.0 371.2h0M235.6 153.1h0M247.2 45.5h0M238.4 44.2h0M280.3 53.9h0M269.3 52.6h0M281.2 44.0h0M403.1 225.6h0M264.3 42.5h0M322.2 395.0h0M301.7 334.7h0M288.0 261.9h0M294.9 51.0h0M294.8 49.4h0M296.7 42.8h0M277.1 45.5h0M269.4 37.0h0M268.6 52.3h0M267.0 55.2h0M271.0 38.2h0M307.6 48.3h0M349.0 371.2h0M267.3 35.6h0M337.1 185.5h0M260.5 48.3h0M330.6 406.4h0M274.6 47.0h0M320.0 414.8h0M251.5 46.9h0M341.7 195.1h0M292.9 41.3h0M277.5 80.1h0M258.0 36.9h0M288.5 49.6h0M267.6 45.3h0M290.3 50.8h0M277.9 35.5h0M229.7 44.1h0M406.7 225.5h0M323.1 407.8h0M261.5 152.9h0M287.0 46.6h0M293.4 46.8h0M259.3 52.3h0M282.1 150.4h0M325.6 306.8h0M276.6 151.7h0M244.0 45.5h0M264.3 53.7h0M279.1 38.4h0M250.0 81.8h0M280.4 37.1h0M296.3 155.7h0M270.9 55.1h0M312.3 43.8h0M287.9 153.2h0M325.1 409.1h0M287.3 154.6h0M281.7 45.3h0M196.3 80.3h0M273.3 41.3h0M326.7 403.4h0M265.2 152.9h0M294.8 48.3h0M323.4 432.6h0M270.6 225.4h0M321.0 405.1h0M295.4 45.5h0M267.4 39.9h0M314.4 157.3h0M285.7 46.6h0M310.1 39.8h0M324.0 443.8h0M242.3 80.4h0M309.3 298.2h0M284.6 157.3h0M223.5 80.1h0M355.7 192.1h0M246.0 43.9h0M266.1 41.2h0M325.8 273.0h0M273.4 55.3h0M396.2 225.6h0M276.0 48.1h0M324.0 297.0h0M285.7 156.1h0M332.8 334.7h0M273.6 262.1h0M293.8 298.4h0M315.1 334.6h0M283.9 52.4h0M277.4 38.6h0M203.5 80.2h0M296.3 49.5h0M325.4 267.6h0M236.8 153.1h0M308.3 151.8h0M277.6 78.8h0M282.8 53.6h0M260.3 42.7h0M238.7 80.2h0M320.4 400.5h0M250.1 39.9h0M322.4 148.8h0M295.8 154.6h0M261.8 53.8h0M281.8 149.1h0M285.6 262.1h0M282.9 36.9h0M293.1 43.9h0M269.4 55.3h0M307.0 39.6h0M309.2 154.6h0M258.0 42.5h0M273.4 33.0h0M277.6 53.7h0M331.8 407.8h0M274.1 51.0h0M254.7 153.1h0M252.1 42.6h0M318.6 403.6h0M275.3 32.7h0M247.4 42.5h0M330.4 409.1h0M273.4 39.6h0M325.2 262.1h0M328.6 410.6h0M321.4 413.1h0M301.3 48.1h0M298.3 86.0h0M271.0 32.7h0M293.2 35.7h0M298.4 81.6h0M321.7 143.4h0M308.5 39.7h0M291.2 150.4h0M329.2 406.5h0M253.8 38.6h0M266.4 52.6h0M294.7 41.0h0M299.1 299.8h0M246.3 42.6h0M278.0 51.0h0M291.9 44.0h0M291.5 48.2h0M272.1 48.3h0M276.8 42.8h0M269.9 39.6h0M339.7 192.2h0M322.3 416.2h0M343.3 298.4h0M281.9 49.5h0M383.7 225.8h0M266.6 154.3h0M311.9 46.8h0M308.0 38.3h0M245.5 44.1h0M320.6 334.7h0M325.5 403.3h0M270.8 43.8h0M289.3 38.2h0M282.6 34.4h0M301.5 298.3h0M265.5 39.7h0"/>
<path stroke="#007ff6" d="M293.8 73.3h0M329.2 266.1h0M320.0 164.4h0M316.8 154.4h0M304.5 120.7h0M289.6 150.1h0M321.9 140.4h0M336.0 226.9h0M288.6 84.7h0M335.7 41.1h0M351.1 262.0h0M301.7 299.6h0M348.3 193.9h0M322.1 266.1h0M273.6 81.8h0M318.1 164.5h0M291.9 150.1h0M248.6 116.7h0M318.8 259.2h0M319.0 260.6h0M298.4 299.7h0M310.0 299.8h0M331.2 256.3h0M296.0 115.2h0M324.0 263.2h0M359.9 225.5h0M360.3 189.6h0M323.0 306.6h0M299.6 116.5h0M306.7 113.9h0M303.7 112.2h0M304.9 119.5h0M339.8 45.6h0M329.3 337.4h0M294.8 155.7h0M318.7 266.4h0M327.0 289.9h0M318.2 42.6h0M255.8 116.8h0M312.2 146.3h0M323.9 340.1h0M311.3 370.9h0M329.7 156.1h0M335.8 45.2h0M335.4 295.5h0M338.9 185.4h0M256.8 80.2h0M344.8 296.9h0M312.9 151.7h0M291.9 115.0h0M329.0 261.9h0M285.4 119.3h0M248.8 81.7h0M328.4 41.3h0M321.9 269.2h0M325.0 330.6h0M318.0 155.7h0M320.2 270.6h0M298.3 120.8h0M293.1 87.4h0M346.8 182.7h0M321.4 294.1h0M304.9 151.6h0M318.5 443.7h0M333.3 332.0h0M296.2 112.4h0M310.5 156.1h0M252.7 78.7h0M346.2 195.2h0M253.2 81.7h0M339.5 183.9h0M293.1 150.3h0M315.4 146.0h0M294.5 119.4h0M310.3 146.2h0M309.9 45.3h0M323.2 160.2h0M315.3 443.8h0"/>
<path stroke="#0072ef" d="M323.7 147.3h0M313.8 72.1h0M311.6 336.3h0M277.8 113.9h0M289.8 81.6h0M280.6 115.0h0M318.6 330.4h0M263.6 78.9h0M276.5 77.6h0M318.4 140.6h0M323.6 456.2h0M281.3 78.7h0M329.2 365.3h0M317.4 45.6h0M266.6 115.2h0M321.0 379.5h0M306.1 157.1h0M321.1 148.8h0M358.6 43.9h0M298.1 87.2h0M267.2 116.5h0M334.5 45.4h0M334.1 188.0h0M303.7 151.7h0M320.4 48.0h0M319.8 329.3h0M356.7 41.3h0M249.6 116.6h0M274.3 117.8h0M260.0 78.8h0M300.5 158.6h0M310.0 371.1h0M280.2 80.4h0M264.4 81.9h0M313.0 49.8h0M299.2 150.4h0M319.5 42.6h0M327.0 44.2h0M275.7 77.4h0M310.1 85.7h0M268.0 118.0h0M244.6 116.7h0M318.9 446.3h0M287.5 119.3h0M278.8 114.0h0"/>
<path stroke="#4b63e3" d="M325.7 366.9h0M327.0 45.3h0M333.7 39.8h0M297.7 77.6h0M306.8 79.1h0M308.8 261.8h0M324.5 379.6h0M312.1 71.7h0M315.8 334.7h0M292.4 77.4h0M277.4 77.5h0M292.2 84.7h0M296.2 120.7h0M333.8 185.2h0M284.4 84.5h0M334.1 186.7h0M317.0 149.0h0M284.4 119.5h0M314.0 86.1h0M298.8 74.6h0M329.3 336.2h0M313.9 81.7h0M324.2 445.3h0M312.7 84.6h0M286.6 77.5h0M317.7 92.9h0M306.7 83.2h0M324.7 156.1h0M305.3 73.2h0M298.7 116.6h0M342.1 189.7h0M270.5 80.3h0M281.2 83.0h0M305.9 85.8h0M316.1 150.2h0M322.8 361.2h0M308.5 77.4h0M307.9 91.5h0M315.2 77.5h0M324.6 153.2h0M297.7 76.3h0M338.0 186.8h0M302.8 150.2h0M320.7 162.9h0M331.4 443.6h0M347.3 186.8h0M318.5 150.4h0M283.9 78.9h0M305.9 74.5h0M277.0 120.9h0M300.7 81.9h0M337.9 45.6h0M321.8 44.1h0M332.6 191.0h0M302.4 78.9h0M276.0 83.1h0"/>
<path stroke="#7053d4" d="M335.7 221.3h0M317.2 86.0h0M329.9 228.6h0M324.1 373.7h0M324.8 143.2h0M306.4 70.4h0M309.9 84.7h0M354.7 41.4h0M332.2 45.5h0M312.2 147.4h0M332.5 186.5h0M314.9 338.8h0M343.2 182.4h0M345.4 185.5h0M315.7 76.2h0M321.8 141.8h0M345.3 42.5h0M283.4 113.7h0M322.3 359.8h0M294.6 77.3h0M309.1 155.9h0M314.1 90.0h0M335.8 44.1h0M339.8 48.3h0M341.1 192.4h0M320.2 445.3h0M369.0 46.8h0M333.7 195.1h0M305.3 84.4h0M328.8 341.7h0M354.2 42.8h0M325.3 442.2h0M324.2 271.9h0M297.4 73.1h0M353.5 186.5h0M339.0 76.2h0M308.6 91.5h0M307.8 147.4h0M344.2 186.6h0M329.1 157.4h0M319.6 76.3h0M295.7 81.8h0M320.6 69.0h0M298.5 83.2h0M320.8 151.9h0M306.2 87.2h0M299.9 85.8h0M295.5 78.8h0M321.6 76.2h0M324.3 160.0h0M315.5 80.4h0M355.2 42.7h0M315.7 294.3h0M343.9 47.0h0M317.1 87.2h0M315.2 84.4h0M367.0 76.2h0M328.1 321.9h0M319.4 160.1h0M326.8 438.1h0M312.8 152.9h0M319.6 73.2h0M304.9 81.7h0M314.5 161.6h0M315.9 83.2h0"/>
<path stroke="#893fc2" d="M324.4 151.9h0M317.1 164.2h0M326.1 80.2h0M302.0 71.8h0M329.3 372.7h0M289.2 114.0h0M326.6 371.3h0M330.4 214.5h0M315.7 303.8h0M325.6 125.0h0M298.6 77.7h0M331.5 185.3h0M325.6 341.7h0M381.5 45.5h0M332.4 78.9h0M334.1 226.9h0M332.8 193.8h0M342.2 221.3h0M301.0 74.8h0M324.0 151.8h0M325.4 339.0h0M323.6 375.4h0M318.4 369.9h0M337.0 124.9h0M316.6 374.0h0M327.9 197.9h0M302.2 300.9h0M301.2 87.1h0M305.4 83.1h0M329.1 217.1h0M302.7 77.5h0M342.9 48.2h0M325.6 238.1h0M314.7 332.1h0M325.4 446.3h0M328.3 225.7h0M319.5 81.6h0M323.7 76.0h0M297.6 84.6h0M340.5 70.4h0M356.9 42.7h0M344.6 81.8h0M327.7 272.0h0M326.6 122.2h0M305.3 150.3h0M375.5 45.3h0M303.3 71.9h0M298.7 88.8h0M313.3 73.2h0M354.0 86.0h0M347.6 261.8h0M305.4 225.8h0M301.4 90.3h0M357.9 42.6h0M306.1 224.2h0M338.6 73.2h0M322.8 41.2h0M326.1 162.7h0M335.1 157.3h0M324.6 333.1h0M328.9 192.1h0M324.6 164.2h0M307.5 83.1h0M334.1 222.6h0M329.9 185.3h0M358.7 46.8h0M320.2 75.9h0M328.7 186.6h0M310.5 154.6h0M319.6 291.2h0M318.3 73.4h0"/>
<path stroke="#9b24ad" d="M339.0 150.2h0M324.0 337.5h0M345.4 84.4h0M338.8 110.9h0M334.4 111.2h0M355.6 80.2h0M366.4 77.7h0M321.3 234.2h0M342.2 301.1h0M324.7 87.2h0M330.8 228.5h0M324.0 196.6h0M326.9 228.3h0M341.2 120.8h0M303.3 84.6h0M339.6 231.1h0M330.1 123.6h0M364.8 81.8h0M319.9 88.8h0M335.9 73.2h0M319.3 213.0h0M322.8 74.9h0M316.8 260.7h0M336.7 158.6h0M373.2 82.9h0M330.9 334.6h0M329.5 235.3h0M327.1 73.4h0M363.5 45.5h0M321.0 92.8h0M346.2 45.3h0M326.5 326.2h0M316.7 92.7h0M323.2 382.2h0M327.8 189.5h0M333.6 232.5h0M327.1 86.0h0M328.3 162.8h0M347.9 84.4h0M329.1 286.9h0M307.1 228.4h0M340.9 123.7h0M325.2 115.3h0M325.5 81.8h0M326.7 77.7h0M318.8 157.2h0M332.0 329.2h0M320.4 160.1h0M335.4 85.7h0M326.4 117.8h0M342.4 81.7h0M328.9 238.3h0M322.4 362.7h0M310.3 231.3h0M346.7 224.2h0M330.5 113.7h0M353.2 42.7h0M345.7 224.0h0M325.7 364.1h0M323.2 81.5h0M323.7 197.9h0M307.0 229.9h0M311.3 84.3h0M324.5 184.0h0M330.0 188.2h0M310.8 91.4h0M334.1 122.3h0M338.0 112.2h0M361.8 46.8h0M340.1 225.6h0M372.8 44.0h0M325.9 84.5h0M336.1 120.8h0M336.9 337.6h0M345.6 41.3h0M333.3 299.7h0M324.1 302.4h0M382.2 80.2h0M323.1 120.6h0M328.2 85.9h0M354.8 45.4h0M335.2 151.8h0M322.0 85.7h0M323.8 435.2h0M326.3 196.6h0M331.8 113.8h0M327.8 119.2h0M326.3 373.8h0M334.1 125.0h0M371.4 46.9h0M325.5 433.9h0M314.6 73.2h0M332.1 81.8h0"/>
<path stroke="#b607a2" d="M326.9 123.6h0M336.5 107.0h0M322.4 177.0h0M324.1 368.2h0M323.6 117.9h0M327.3 222.6h0M331.2 79.0h0M316.9 220.2h0M328.4 214.4h0M327.7 116.6h0M329.5 147.4h0M344.2 112.4h0M323.3 235.5h0M341.7 115.1h0M342.8 79.0h0M377.7 81.8h0M314.4 220.1h0M323.2 338.7h0M329.0 222.7h0M332.2 221.5h0M320.5 215.7h0M322.8 182.4h0M325.6 112.4h0M330.3 125.1h0M320.7 73.3h0M353.0 76.0h0M352.3 122.1h0M319.3 197.8h0M320.0 233.8h0M350.3 81.5h0M331.5 119.3h0M337.3 221.3h0M328.2 369.8h0M324.6 257.8h0M326.3 69.2h0M365.9 86.0h0M368.2 42.5h0M324.3 220.2h0M357.1 77.6h0M324.7 93.1h0M335.7 263.3h0M349.2 80.4h0M356.1 81.6h0M328.0 331.9h0M326.3 87.1h0M321.3 222.8h0M335.1 113.8h0M347.1 77.4h0M322.7 192.5h0M329.0 304.0h0M340.5 110.9h0M362.9 46.7h0M332.4 109.5h0M321.0 140.5h0M300.2 81.6h0M333.7 115.1h0M327.3 225.8h0M336.9 113.7h0M382.9 78.8h0M334.7 72.0h0M332.7 330.6h0M335.7 333.4h0M318.8 196.6h0M366.5 78.8h0M375.8 77.6h0M292.2 73.5h0M365.2 77.7h0M323.2 83.1h0M323.9 112.5h0M352.0 77.4h0M340.2 220.1h0M340.1 108.3h0M353.1 84.4h0M338.9 120.6h0M332.4 344.4h0M368.8 77.7h0M319.6 185.5h0"/>
<path stroke="#cd0095" d="M323.8 202.2h0M316.1 215.9h0M314.5 189.3h0M339.5 126.3h0M346.4 117.9h0M367.0 79.0h0M360.8 81.6h0M384.5 80.5h0M349.4 116.5h0M346.2 86.0h0M324.3 117.8h0M331.3 231.3h0M331.5 112.3h0M375.3 81.6h0M330.3 112.6h0M307.6 189.6h0M346.6 124.9h0M308.6 188.2h0M320.1 118.0h0M336.6 111.1h0M381.6 81.6h0M313.6 186.5h0M309.8 185.5h0M316.5 234.0h0M319.7 221.3h0M332.5 151.7h0M344.8 155.9h0M327.3 271.8h0M336.0 150.4h0M326.4 85.8h0M348.4 79.0h0M326.7 182.5h0M350.1 75.9h0M316.4 372.5h0M346.6 121.0h0M313.0 183.7h0"/>
<path stroke="#e00086" d="M349.5 108.4h0M317.0 218.6h0M356.5 115.4h0M318.8 340.4h0M332.2 372.7h0M355.0 76.0h0M320.6 181.0h0M327.9 190.7h0M326.3 309.4h0M356.2 77.7h0M347.7 81.9h0M331.0 375.5h0M386.6 80.1h0M321.3 178.4h0M333.9 129.3h0M362.3 77.4h0M315.2 235.2h0M331.0 155.7h0M371.2 79.1h0M327.6 294.1h0M337.3 153.1h0M336.8 230.0h0M373.8 77.6h0M388.4 80.1h0M342.7 124.9h0"/>
<path stroke="#ef0075" d="M309.1 193.8h0M343.3 154.7h0M292.7 223.0h0M318.7 234.1h0M334.8 372.4h0M394.0 80.2h0M318.7 227.0h0M369.8 117.8h0M347.4 154.6h0M309.6 228.2h0M341.2 157.2h0M327.5 227.1h0M354.3 153.1h0M376.7 78.8h0M352.4 85.9h0M317.5 182.5h0M331.1 161.4h0M388.9 44.0h0M310.2 186.8h0M397.8 78.8h0M316.7 197.8h0M286.8 225.7h0M353.8 113.8h0M317.5 185.4h0"/>
<path stroke="#fb0064" d="M304.5 219.9h0M299.8 221.4h0M351.7 119.6h0M360.2 122.4h0M332.4 122.2h0M333.3 326.4h0M339.2 154.7h0M325.2 324.8h0M302.8 81.7h0M300.8 185.1h0M321.4 218.6h0M300.1 228.3h0M283.6 225.8h0M339.4 264.9h0M338.6 337.4h0M328.6 87.5h0M329.4 347.4h0M347.7 298.3h0M322.9 298.3h0M329.0 263.5h0M364.6 117.9h0M336.8 296.9h0M328.5 229.8h0M396.5 79.0h0M302.5 228.5h0M323.4 222.9h0M325.3 222.7h0M309.7 182.6h0M345.5 122.1h0M340.1 337.5h0M315.7 221.5h0M343.5 189.5h0M365.7 189.3h0M333.7 221.3h0M328.5 338.8h0M307.0 334.6h0M331.5 74.8h0M335.3 232.5h0M345.7 123.4h0M328.0 334.6h0M296.8 262.0h0M324.9 214.5h0M326.5 292.7h0M280.6 225.6h0M314.7 183.9h0M338.5 334.7h0M342.8 152.9h0M319.5 298.3h0M331.7 324.9h0M380.2 81.9h0M313.4 195.2h0M327.2 216.0h0M320.1 219.9h0M307.8 232.4h0M312.2 231.3h0M324.0 185.2h0M326.5 333.5h0M336.3 83.1h0M323.7 306.9h0M362.5 189.6h0M306.8 232.5h0M339.6 262.2h0M330.8 302.7h0M346.7 116.7h0M396.4 83.2h0M312.8 214.2h0M342.4 297.1h0M327.6 266.2h0M323.4 113.9h0M395.1 42.5h0M330.3 225.5h0M350.3 155.8h0M300.6 229.7h0M345.9 116.8h0M367.6 84.5h0M414.1 80.1h0M358.9 118.0h0M329.5 329.0h0M302.9 186.8h0M329.6 334.8h0M330.7 324.8h0"/>
<path stroke="#ff0051" d="M307.0 184.0h0M333.7 341.6h0M305.2 185.2h0M406.1 407.8h0M369.0 117.9h0M348.2 115.1h0M384.0 262.0h0M320.0 297.0h0M298.9 225.8h0M487.5 44.0h0M397.1 407.7h0M324.1 334.5h0M348.7 112.4h0M366.9 153.1h0M290.9 188.3h0M299.2 228.3h0M382.4 189.5h0M309.0 183.8h0M375.9 115.3h0M340.4 371.1h0M371.9 116.8h0M297.4 190.8h0M401.6 407.8h0M291.4 185.4h0M364.2 443.9h0M429.3 43.9h0M442.8 407.7h0M341.7 80.2h0M365.5 153.2h0M329.3 85.9h0M338.1 157.2h0M323.4 179.6h0M324.0 190.9h0M279.2 189.4h0M375.3 153.3h0M303.0 193.8h0M418.8 43.9h0M392.3 153.1h0M338.7 90.0h0M308.3 190.9h0M363.8 407.9h0M305.7 182.4h0M346.6 122.3h0M320.1 215.7h0M325.5 252.2h0M502.0 44.0h0M386.5 407.8h0M345.3 111.1h0M402.7 153.0h0M400.5 443.8h0M361.4 371.3h0M382.9 116.6h0M372.9 407.8h0M334.7 77.5h0M377.9 116.6h0M325.9 334.7h0M341.6 155.8h0M341.8 112.4h0M354.4 109.7h0M362.3 262.0h0M308.6 185.3h0M336.4 298.4h0M288.8 298.3h0M307.3 196.3h0M355.2 116.8h0M409.3 43.8h0M406.3 80.2h0M317.2 216.0h0M325.8 346.1h0M340.0 300.9h0M349.3 119.3h0M350.9 371.0h0M287.0 298.4h0M422.4 80.4h0M418.6 443.8h0M367.3 443.8h0M312.6 221.5h0M383.9 443.8h0M325.6 340.4h0M300.7 192.4h0M290.9 190.9h0M380.3 153.2h0M344.2 115.2h0M408.1 43.9h0M369.9 261.9h0M370.3 443.7h0M333.1 291.3h0M282.3 189.6h0M305.6 188.3h0M350.9 152.9h0M333.8 305.2h0M326.6 343.2h0M357.8 407.5h0M402.0 443.5h0M363.1 262.1h0M345.4 120.9h0M353.0 80.2h0M391.4 153.1h0M294.2 189.5h0M298.5 193.6h0M350.4 83.1h0M325.6 326.1h0M328.7 80.4h0M413.7 43.9h0M382.4 153.2h0M320.9 212.9h0M348.3 113.7h0"/>
<path stroke="#008bfb" d="M287.0 39.6h0M326.5 296.7h0M321.7 339.1h0M295.7 37.2h0M252.7 44.0h0M270.8 31.5h0M322.9 406.5h0M311.9 39.9h0M268.3 55.3h0M338.8 196.3h0M256.5 41.0h0M237.0 44.0h0M321.1 150.3h0M328.3 410.6h0M323.8 414.6h0M217.7 80.4h0M239.6 44.0h0M275.1 51.2h0M316.7 40.0h0M324.0 438.2h0M326.4 334.8h0M330.5 407.7h0M332.1 257.9h0M271.1 46.6h0M264.1 51.0h0M318.4 161.3h0M326.8 329.2h0M287.1 150.2h0M321.3 270.5h0M292.3 45.4h0M313.1 161.7h0M305.6 334.8h0M263.3 52.6h0M325.5 448.1h0M304.0 51.1h0M297.8 118.1h0M321.1 403.6h0M210.5 80.2h0M281.3 48.2h0M281.3 51.0h0M318.2 442.4h0M328.2 156.0h0M321.6 414.8h0M283.0 35.5h0M306.4 45.4h0M322.6 151.7h0M257.7 48.2h0M240.9 43.9h0M296.8 87.5h0M266.2 32.8h0M351.2 188.1h0M295.0 118.0h0M253.3 80.2h0M285.9 149.0h0M326.5 267.7h0M303.2 41.2h0M306.4 42.5h0M261.9 49.7h0M322.1 442.2h0M317.1 408.9h0M290.9 45.5h0M258.2 52.4h0M307.9 42.6h0M279.7 45.2h0M343.2 185.4h0M306.5 41.1h0M324.0 400.8h0M303.3 42.5h0M294.2 36.9h0M298.0 51.0h0M244.6 41.1h0M334.7 303.9h0M263.8 45.5h0M283.2 48.1h0M288.0 155.8h0M276.6 52.6h0M269.5 53.9h0M317.9 44.2h0M324.0 409.2h0M260.6 35.8h0M277.2 37.1h0M302.7 298.2h0M320.8 442.4h0M276.4 37.0h0M188.0 80.3h0M249.4 42.8h0M322.8 400.6h0M236.5 44.1h0M272.1 42.5h0M326.1 410.5h0M246.4 45.2h0M278.8 48.1h0M285.3 35.8h0M300.0 46.9h0M285.1 41.3h0M325.1 443.7h0M332.1 336.0h0M261.7 55.4h0M260.7 39.7h0M273.2 48.4h0M282.7 42.5h0M278.1 48.3h0M231.3 80.3h0M330.9 297.1h0M258.4 46.9h0M296.2 46.8h0M315.7 46.7h0M323.5 44.1h0M326.3 413.4h0M261.6 45.3h0M288.5 44.1h0M329.3 409.1h0M275.0 36.9h0M315.4 48.1h0M292.8 38.3h0M262.2 35.6h0M263.4 39.6h0M299.9 156.0h0M324.2 417.4h0M352.1 188.0h0M327.7 151.6h0M335.0 336.2h0M300.5 38.3h0M317.8 407.7h0M293.7 45.3h0M321.8 402.0h0M389.4 225.7h0M275.8 34.1h0M287.0 51.0h0M347.3 188.3h0M323.0 420.2h0M311.7 443.7h0M290.9 37.0h0M246.9 41.3h0M263.7 44.1h0M336.1 329.1h0M272.9 151.6h0M291.1 46.6h0M268.2 48.3h0M259.5 35.8h0M264.6 39.6h0M294.7 87.4h0M262.7 153.1h0M331.5 340.2h0M331.1 327.6h0M268.0 45.4h0M207.5 80.4h0M308.6 334.7h0M329.8 338.7h0M343.0 196.5h0M240.8 45.5h0M311.9 45.4h0M298.0 150.1h0M253.3 152.9h0M293.7 112.2h0M268.7 41.3h0M269.0 53.6h0M279.1 153.1h0M278.8 154.7h0M267.7 32.9h0M320.4 411.8h0M290.8 151.9h0M265.8 42.5h0M321.1 400.8h0M343.7 188.2h0M348.0 190.9h0M339.8 189.7h0M299.2 44.1h0M267.0 46.8h0M294.8 150.4h0M289.5 262.0h0M226.5 44.1h0M283.9 41.2h0M313.3 295.6h0M296.3 51.0h0M292.3 42.6h0M293.4 334.8h0M327.8 153.0h0M285.1 45.2h0M326.2 285.8h0M320.1 401.9h0M283.8 262.0h0M246.1 48.3h0M297.7 115.0h0M257.8 49.8h0M314.3 41.3h0M285.5 152.9h0M330.3 154.5h0M232.5 80.3h0M287.6 52.6h0M277.9 155.8h0M264.1 55.2h0M324.4 252.2h0M325.4 327.5h0M290.6 42.7h0M294.2 45.3h0M325.3 411.9h0M296.7 36.8h0M260.1 153.2h0M324.4 411.9h0M321.5 263.3h0M307.0 46.7h0M317.6 374.0h0M275.3 49.6h0M354.5 186.7h0M302.0 42.6h0M323.1 299.6h0M306.6 116.7h0M321.4 253.6h0M327.7 409.3h0M288.9 41.3h0M262.9 262.0h0M292.0 49.4h0M323.1 440.8h0M374.0 225.6h0M254.0 81.6h0M280.1 43.8h0M281.4 37.2h0M291.0 35.7h0M328.0 264.6h0M275.3 261.9h0M289.1 43.8h0M298.4 49.5h0M274.0 36.9h0M288.3 41.4h0M301.3 49.7h0M279.7 34.4h0"/>
<path stroke="#007ff6" d="M350.0 188.1h0M314.9 333.3h0M292.7 155.8h0M321.4 340.2h0M314.9 263.2h0M357.9 188.3h0M338.4 193.5h0M271.7 76.2h0M302.8 120.9h0M343.2 222.8h0M253.5 116.5h0M308.9 157.2h0M313.6 157.2h0M298.3 156.0h0M342.9 299.7h0M302.9 116.7h0M349.2 183.8h0M329.6 308.0h0M312.5 299.7h0M305.4 116.8h0M337.7 196.7h0M328.4 253.7h0M300.2 119.6h0M280.4 78.8h0M293.7 117.8h0M339.5 186.8h0M315.5 41.0h0M237.1 80.1h0M331.7 323.5h0M356.6 45.3h0M321.5 291.3h0M234.6 80.2h0M252.2 116.5h0M318.8 160.1h0M329.4 45.2h0M281.5 153.0h0M299.6 87.2h0M267.9 78.8h0M299.8 157.3h0M267.4 81.7h0M324.8 438.2h0M338.2 185.4h0M276.7 80.5h0M246.4 81.7h0M332.0 262.1h0M271.1 81.7h0M246.6 77.5h0M290.3 81.5h0M316.5 48.1h0M328.8 143.3h0M342.3 183.9h0M316.1 41.3h0M319.2 291.4h0M280.0 77.5h0M296.2 150.1h0M294.3 334.6h0M299.5 84.6h0M345.8 193.6h0M349.3 190.8h0M315.6 144.6h0M291.8 114.0h0M311.0 42.5h0M323.6 299.8h0M300.5 122.4h0M325.3 271.9h0M290.4 74.9h0M313.0 41.1h0M291.1 154.5h0M318.1 337.6h0M326.9 256.3h0M330.7 261.9h0M319.1 44.0h0M299.7 154.6h0"/>
<path stroke="#0072ef" d="M246.8 116.5h0M291.9 110.8h0M293.8 86.1h0M277.0 113.8h0M275.3 118.2h0M304.0 148.7h0M286.6 116.6h0M323.5 157.3h0M322.5 443.7h0M274.2 82.9h0M332.9 148.9h0M330.1 71.9h0M256.0 81.5h0M328.8 39.9h0M271.2 79.0h0M295.1 83.0h0M324.6 41.4h0M315.5 79.0h0M315.3 142.0h0M316.8 42.5h0M300.4 89.9h0M293.2 119.2h0M332.1 146.0h0M323.5 433.8h0M366.9 225.5h0M318.3 439.7h0M324.3 359.9h0M290.1 112.3h0M348.6 227.2h0M287.8 85.9h0M290.4 76.2h0M349.5 42.5h0M318.8 39.7h0M347.1 192.3h0M320.9 74.6h0M301.6 155.7h0M243.0 116.6h0M317.8 39.8h0M287.1 84.4h0M323.3 154.7h0M363.6 225.6h0M289.3 85.8h0M265.9 77.7h0M292.3 116.8h0M305.1 117.8h0M331.3 48.1h0M300.7 71.9h0M338.2 48.1h0M318.5 264.8h0M281.2 80.5h0"/>
<path stroke="#4b63e3" d="M323.4 146.2h0M284.1 76.3h0M370.2 44.2h0M290.8 115.0h0M316.9 143.2h0M326.6 48.0h0M327.6 443.8h0M325.1 154.3h0M270.4 78.9h0M287.3 74.5h0M346.8 42.6h0M269.7 115.0h0M357.8 189.3h0M271.1 116.5h0M316.6 161.6h0M282.2 77.4h0M287.8 77.7h0M320.8 164.2h0M330.7 339.0h0M317.3 150.2h0M332.2 153.0h0M272.2 80.5h0M323.2 158.7h0M339.2 193.5h0M323.2 376.6h0M271.7 115.2h0M314.6 83.0h0M318.0 265.0h0M279.3 116.4h0M278.8 81.8h0M292.9 74.6h0M323.6 288.7h0M290.2 119.4h0M345.3 222.8h0M320.9 84.5h0M339.4 191.0h0M283.9 77.7h0M321.0 158.5h0M335.2 189.7h0M347.5 45.4h0M302.0 70.6h0M326.5 41.1h0M284.4 85.8h0M298.8 90.1h0M347.3 42.6h0M353.5 188.0h0M313.2 148.9h0M346.5 43.9h0M347.7 46.7h0M365.2 45.5h0M350.9 39.9h0M323.4 141.9h0M305.7 148.9h0M284.2 80.4h0M290.3 79.1h0M337.9 222.9h0M322.1 147.3h0M381.6 42.7h0M303.8 75.9h0M319.6 155.9h0M329.7 193.6h0M309.3 149.1h0M311.1 70.4h0M319.2 262.2h0M348.7 222.7h0M326.5 42.5h0M331.7 46.7h0M289.7 76.1h0"/>
<path stroke="#7053d4" d="M317.3 81.9h0M318.9 92.9h0M307.0 158.7h0M320.8 236.9h0M342.4 45.2h0M361.7 41.0h0M362.0 39.8h0M333.2 185.3h0M322.4 162.9h0M325.4 368.1h0M307.3 68.9h0M329.0 83.0h0M299.4 80.5h0M304.2 80.5h0M351.2 227.1h0M346.6 184.0h0M349.2 185.5h0M337.7 224.3h0M310.2 149.0h0M296.7 116.5h0M321.2 371.1h0M370.2 39.8h0M276.6 78.8h0M325.9 46.7h0M319.4 144.5h0M338.4 188.2h0M342.2 42.5h0M347.2 190.7h0M285.6 84.6h0M316.7 370.9h0M356.1 187.9h0M356.3 225.7h0M313.3 160.3h0M352.9 39.8h0M314.0 333.2h0M324.0 143.5h0M326.8 47.0h0M306.2 234.1h0M295.7 73.2h0M317.0 365.3h0M276.9 116.7h0M310.1 74.8h0M267.8 113.6h0M341.6 228.3h0M324.4 44.1h0M288.0 83.2h0M275.7 119.2h0M353.2 41.2h0M320.7 90.3h0M326.5 225.5h0M327.6 257.8h0M305.5 85.7h0M328.1 182.4h0M324.9 162.7h0M336.7 195.1h0M344.2 185.5h0M328.4 224.4h0M318.0 87.4h0M312.4 71.8h0M302.7 74.6h0M337.9 181.1h0M274.0 113.6h0M353.2 225.6h0M338.7 221.4h0"/>
<path stroke="#893fc2" d="M295.5 298.4h0M329.8 191.0h0M295.7 225.6h0M321.9 330.3h0M306.5 217.3h0M325.9 154.4h0M299.6 223.0h0M325.9 184.0h0M318.5 67.5h0M330.0 41.3h0M338.9 225.8h0M302.6 222.7h0M330.2 118.1h0M329.5 109.4h0M348.1 77.7h0M329.9 195.2h0M305.1 221.3h0M321.4 232.6h0M329.1 112.2h0M332.2 264.9h0M327.5 144.9h0M325.2 202.3h0M309.6 297.1h0M307.7 220.1h0M310.0 334.7h0M333.4 76.2h0M335.2 227.2h0M324.5 74.9h0M363.3 42.8h0M312.7 76.1h0M313.4 217.1h0M325.3 198.0h0M343.4 228.5h0M333.2 187.9h0M325.7 217.3h0M339.5 43.9h0M356.6 44.0h0M305.9 90.0h0M312.2 218.4h0M331.5 80.1h0M336.5 231.1h0M336.2 218.8h0M297.3 85.9h0M323.6 77.6h0M325.4 88.7h0M279.4 225.8h0M323.3 87.1h0M305.4 223.0h0M326.9 80.2h0M329.9 183.8h0M374.6 41.2h0M325.0 302.6h0M328.7 148.9h0M327.9 147.4h0M328.2 372.7h0M322.4 292.5h0M309.0 88.9h0M297.1 226.8h0M327.8 366.7h0M327.1 364.2h0M297.6 225.5h0M340.8 295.4h0M320.0 439.7h0M326.3 440.7h0M323.0 435.7h0M329.5 443.7h0"/>
<path stroke="#9b24ad" d="M322.3 90.0h0M328.3 296.7h0M333.9 117.9h0M338.8 113.7h0M330.5 122.3h0M340.3 74.6h0M321.9 359.9h0M315.5 259.3h0M346.8 227.0h0M321.9 187.9h0M327.2 112.4h0M324.8 309.7h0M320.2 371.2h0M349.1 122.2h0M325.4 199.3h0M336.5 116.6h0M331.0 189.4h0M329.3 196.5h0M336.7 80.4h0M291.8 225.7h0M321.9 219.9h0M305.6 261.9h0M307.1 219.9h0M323.9 376.6h0M323.5 214.2h0M330.8 108.2h0M319.0 365.3h0M335.0 218.6h0M322.2 112.5h0M303.2 225.7h0M325.0 217.3h0M333.1 116.7h0M320.3 366.8h0M322.3 214.3h0M320.5 369.8h0M371.2 43.9h0M318.4 375.1h0M338.8 118.0h0M324.8 91.5h0M310.7 228.5h0M313.5 234.1h0M320.5 294.2h0M310.0 225.4h0M329.4 441.1h0M327.9 306.6h0M324.7 195.2h0M304.1 226.9h0M332.3 80.1h0M326.7 324.8h0M322.8 289.8h0M328.4 147.5h0M340.5 77.4h0M326.5 221.3h0M322.0 343.2h0M323.4 219.9h0M336.4 259.2h0M346.9 73.1h0M330.3 369.7h0M326.5 143.1h0M336.3 77.6h0M335.4 116.7h0M339.7 333.3h0M328.6 122.2h0M322.5 186.6h0M324.8 213.1h0M316.4 76.0h0M350.6 45.2h0M329.4 368.5h0M339.1 79.0h0M326.4 150.4h0M335.2 302.6h0M324.0 456.2h0"/>
<path stroke="#b607a2" d="M340.6 75.9h0M324.9 112.6h0M321.4 120.8h0M327.7 365.5h0M343.8 76.1h0M367.6 83.1h0M401.1 80.5h0M328.4 108.4h0M348.8 83.0h0M338.7 218.7h0M319.8 214.3h0M330.0 76.2h0M357.5 83.2h0M319.5 84.4h0M319.5 196.4h0M333.7 154.4h0M371.0 83.2h0M320.7 187.9h0M329.3 77.6h0M319.7 186.6h0M331.0 126.6h0M321.7 91.5h0M349.1 298.2h0M325.8 185.4h0M325.0 236.9h0M335.7 292.8h0M320.8 195.0h0M349.0 84.5h0M325.1 79.1h0M336.3 81.6h0M334.1 103.9h0M384.6 79.0h0M321.6 67.5h0M333.6 113.6h0M326.7 84.5h0M336.9 115.0h0M345.8 108.4h0M316.2 232.4h0M340.6 87.3h0M315.8 368.3h0M322.3 337.7h0M331.7 116.7h0M330.9 70.3h0M319.7 364.2h0M321.3 200.6h0M321.3 231.1h0M333.9 224.4h0M323.5 304.0h0M330.6 192.2h0M322.5 79.0h0M342.3 87.2h0M338.0 87.1h0M327.7 110.9h0M315.3 236.9h0M324.9 292.7h0M328.4 88.8h0M324.2 366.8h0M327.2 229.9h0M337.5 218.6h0M318.0 376.6h0M324.1 182.6h0M328.4 125.1h0M364.1 81.9h0M337.6 119.5h0M327.2 75.9h0M339.8 84.4h0M328.3 260.8h0M325.0 157.3h0"/>
<path stroke="#cd0095" d="M320.8 80.5h0M340.9 154.5h0M328.8 330.3h0M308.1 183.8h0M331.7 111.0h0M320.2 189.7h0M337.0 119.6h0M329.1 153.1h0M333.6 70.6h0M325.1 88.8h0M392.0 80.1h0M340.0 109.4h0M390.9 45.3h0M357.4 80.5h0M397.7 81.8h0M337.5 232.6h0M337.9 127.9h0M306.9 182.5h0M344.2 120.7h0M386.6 45.6h0M316.5 225.6h0M320.0 116.7h0M349.5 109.5h0M327.7 218.5h0M346.9 83.3h0M346.0 119.5h0M363.6 77.7h0M342.6 126.4h0M314.8 217.2h0M315.2 228.3h0M349.6 110.9h0M337.4 81.5h0M379.1 81.6h0M314.2 186.8h0M321.6 179.9h0M321.0 308.1h0M395.2 79.0h0M358.7 76.1h0M351.1 113.7h0M334.3 332.0h0M318.6 189.3h0M319.7 91.5h0M316.6 232.8h0M343.3 74.6h0M316.8 236.8h0M323.1 231.4h0M336.8 118.1h0M340.6 120.9h0M349.3 87.3h0M336.4 228.5h0M384.4 45.4h0M331.7 227.0h0M323.9 267.4h0M327.3 236.8h0M328.0 330.3h0M343.0 105.6h0"/>
<path stroke="#e00086" d="M321.9 234.1h0M334.4 292.9h0M357.8 114.0h0M350.3 122.2h0M392.3 45.6h0M349.1 151.6h0M337.7 226.8h0M380.3 77.5h0M351.9 83.2h0M363.3 84.3h0M360.9 79.0h0M347.0 80.2h0M309.6 227.1h0M317.5 181.3h0M372.8 76.3h0M321.5 446.4h0M322.1 196.5h0M338.9 72.0h0M316.7 231.3h0M318.7 192.3h0M304.3 229.7h0M339.2 371.0h0M392.1 44.1h0M377.1 84.4h0M360.1 119.4h0M315.8 220.1h0M316.8 189.6h0M337.3 116.4h0M385.5 45.5h0M370.3 81.7h0M304.6 185.3h0"/>
<path stroke="#ef0075" d="M388.5 79.0h0M361.0 82.9h0M324.8 189.3h0M306.9 225.4h0M300.4 224.4h0M341.9 151.8h0M384.4 77.3h0M321.3 192.2h0M316.5 116.5h0M394.9 43.8h0M367.6 116.5h0M310.6 219.9h0M410.3 80.1h0M299.6 262.2h0M314.6 224.3h0M339.9 299.7h0M317.0 188.3h0M316.7 190.9h0M316.9 117.9h0M338.5 298.2h0M345.0 78.9h0M325.7 116.7h0M330.9 149.1h0M395.8 80.1h0M308.3 229.6h0M344.2 106.9h0M392.4 46.9h0M317.5 224.0h0M376.3 81.9h0M367.9 113.8h0M363.8 120.8h0M347.5 87.3h0M347.3 151.6h0M326.2 202.3h0M359.5 113.7h0M318.4 179.8h0M366.4 118.1h0M333.4 109.7h0M314.1 116.5h0M309.4 231.2h0"/>
<path stroke="#fb0064" d="M352.2 154.3h0M339.4 84.3h0M330.8 330.4h0M314.4 298.3h0M343.8 154.5h0M362.2 113.9h0M337.2 84.4h0M297.2 220.1h0M366.9 119.5h0M345.4 156.0h0M338.7 153.3h0M325.7 83.1h0M317.6 83.1h0M313.0 227.0h0M317.6 334.5h0M324.4 329.3h0M338.9 115.0h0M350.0 189.5h0M300.5 225.6h0M320.8 217.3h0M326.2 308.1h0M377.0 82.9h0M323.6 178.4h0M353.0 122.1h0M313.7 80.3h0M348.1 118.0h0M341.1 333.4h0M334.3 298.1h0M336.9 371.2h0M364.8 116.7h0M303.1 187.9h0M326.3 322.1h0M366.2 80.1h0M308.3 221.4h0M312.8 78.8h0M411.5 80.3h0M356.2 74.5h0M293.4 225.4h0M392.5 78.9h0M340.0 113.8h0M397.1 43.8h0M350.4 151.6h0M323.2 84.6h0M318.5 91.7h0M324.6 232.6h0M322.6 120.9h0M322.4 235.3h0M323.3 334.6h0M333.5 298.4h0M394.9 81.6h0M324.7 299.5h0M348.7 122.1h0M333.0 231.1h0M316.6 301.0h0M328.1 77.7h0M324.2 199.4h0M331.0 337.5h0M421.3 80.2h0M320.1 188.1h0M369.0 81.7h0M380.4 116.5h0M291.3 298.4h0M364.3 116.7h0M312.6 232.6h0M294.7 226.8h0M311.3 76.0h0M334.2 79.1h0M323.3 449.7h0M321.6 451.9h0M324.2 432.7h0"/>
<path stroke="#ff0051" d="M296.5 226.9h0M322.9 90.2h0M357.1 119.5h0M282.2 225.7h0M285.9 188.2h0M379.1 153.0h0M328.8 218.8h0M376.3 443.9h0M376.4 80.1h0M399.0 443.6h0M467.0 44.0h0M339.7 73.1h0M323.0 229.8h0M289.6 189.5h0M301.7 196.6h0M329.5 343.2h0M498.5 44.0h0M389.9 443.8h0M295.0 189.5h0M306.0 80.3h0M296.7 189.4h0M412.6 443.9h0M296.5 187.9h0M400.1 407.7h0M379.0 78.8h0M357.8 120.7h0M329.0 327.8h0M362.3 407.5h0M317.3 301.3h0M332.1 341.8h0M361.2 443.7h0M415.2 407.9h0M431.0 80.4h0M362.7 443.6h0M298.2 184.0h0M377.8 443.8h0M323.2 336.3h0M328.0 292.5h0M292.7 224.1h0M330.8 263.5h0M369.1 86.0h0M426.3 80.3h0M395.6 407.5h0M299.9 186.7h0M387.4 116.5h0M317.7 80.2h0M388.4 443.9h0M356.1 153.2h0M441.6 80.3h0M398.5 81.7h0M411.1 443.7h0M290.1 190.9h0M403.9 153.3h0M331.4 305.2h0M311.8 192.2h0M356.8 115.0h0M393.9 153.2h0M359.1 115.3h0M302.0 193.6h0M408.0 443.5h0M399.9 43.9h0M296.8 185.2h0M391.4 443.9h0M313.4 193.6h0M366.9 407.6h0M321.2 229.7h0M314.2 78.9h0M312.0 189.6h0M385.4 153.2h0M391.0 407.6h0M345.4 115.2h0M304.4 195.2h0M300.8 299.9h0M342.9 262.1h0M305.7 189.3h0M310.8 90.1h0M367.2 117.9h0M357.7 116.7h0M357.5 76.2h0M311.6 331.8h0M330.9 220.0h0M339.8 78.9h0M404.2 80.3h0M405.2 43.9h0M384.8 116.7h0M409.2 407.7h0M312.3 186.6h0M453.5 44.0h0M369.0 153.1h0M333.3 336.0h0M413.7 407.8h0M300.2 188.2h0M289.3 225.8h0M420.4 407.7h0M297.6 224.2h0M397.3 152.9h0M394.4 443.6h0M321.7 224.3h0M371.8 443.5h0M294.8 190.8h0M328.0 291.4h0M370.5 153.1h0M415.3 44.0h0M287.0 189.4h0M358.4 86.0h0M359.7 153.3h0"/>
</g>
<circle cx="321.4" cy="409.3" r="1.3" fill="#fe005c"/><circle cx="322.3" cy="420.5" r="1.3" fill="#f90067"/>
<g stroke="#484848" stroke-width="1.6"><line x1="159.6" x2="586.6" y1="480" y2="480"/><line x1="240.8" x2="240.8" y1="480" y2="484.3"/><line x1="325.3" x2="325.3" y1="480" y2="484.3"/><line x1="409.8" x2="409.8" y1="480" y2="484.3"/><line x1="494.3" x2="494.3" y1="480" y2="484.3"/><line x1="578.7" x2="578.7" y1="480" y2="484.3"/></g>
<g font-size="25.35px" fill="#333" text-anchor="end"><text x="130.5" y="52.7">Precipitation</text><text x="130.5" y="89.0">Temperature</text><text x="130.5" y="125.3">ARSD</text><text x="130.5" y="161.8">EP 7</text><text x="130.5" y="198.2">PD</text><text x="130.5" y="234.3">NDVI</text><text x="130.5" y="270.7">DD</text><text x="130.5" y="307.0">Slope</text><text x="130.5" y="343.4">MRSD</text><text x="130.5" y="379.8">RD</text><text x="130.5" y="416.4">UBA</text><text x="130.5" y="452.4">Swamp</text></g>
<g font-size="22.5px" fill="#333" text-anchor="middle"><text x="240.8" y="505">−2</text><text x="325.3" y="505">0</text><text x="409.8" y="505">2</text><text x="494.3" y="505">4</text><text x="578.7" y="505">6</text></g>
<text x="197.8" y="528.5" font-size="22.9px" fill="#333">SHAP value (impact on model output)</text>
<rect x="613.2" y="7.8" width="5.2" height="471.5" fill="url(#cb)"/>
<text x="624.3" y="15.6" font-size="22.5px" fill="#000">High</text>
<text x="624.3" y="488" font-size="22.5px" fill="#000">Low</text>
<text transform="translate(683.6,305.3) rotate(-90)" font-size="22.75px" fill="#000">Feature value</text>
</g>
</svg>
</body></html>
